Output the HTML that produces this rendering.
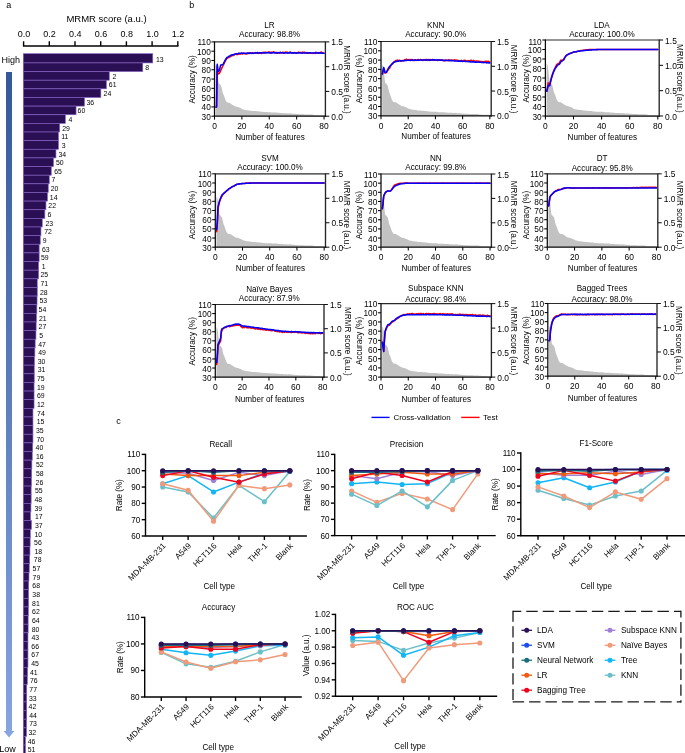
<!DOCTYPE html>
<html><head><meta charset="utf-8"><title>Figure</title>
<style>
html,body{margin:0;padding:0;background:#fff;}
body{width:685px;height:753px;overflow:hidden;font-family:"Liberation Sans", sans-serif;}
svg{display:block;font-family:"Liberation Sans", sans-serif;}
</style></head><body>
<svg width="685" height="753" viewBox="0 0 685 753">
<rect width="685" height="753" fill="#fff"/>
<g opacity="0.999">
<text x="6.30" y="7.60" font-size="9" text-anchor="start" fill="#000">a</text>
<text x="106.50" y="21.70" font-size="9.5" text-anchor="middle" fill="#000">MRMR score (a.u.)</text>
<path d="M23.60 46.0 H177.80" stroke="#000" stroke-width="1.4" fill="none" stroke-linecap="square"/>
<path d="M23.60 46.0 V41.30" stroke="#000" stroke-width="1.4" fill="none"/>
<text x="23.90" y="37.22" font-size="9" text-anchor="middle" fill="#000">0.0</text>
<path d="M49.30 46.0 V41.30" stroke="#000" stroke-width="1.4" fill="none"/>
<text x="49.60" y="37.22" font-size="9" text-anchor="middle" fill="#000">0.2</text>
<path d="M75.00 46.0 V41.30" stroke="#000" stroke-width="1.4" fill="none"/>
<text x="75.30" y="37.22" font-size="9" text-anchor="middle" fill="#000">0.4</text>
<path d="M100.70 46.0 V41.30" stroke="#000" stroke-width="1.4" fill="none"/>
<text x="101.00" y="37.22" font-size="9" text-anchor="middle" fill="#000">0.6</text>
<path d="M126.40 46.0 V41.30" stroke="#000" stroke-width="1.4" fill="none"/>
<text x="126.70" y="37.22" font-size="9" text-anchor="middle" fill="#000">0.8</text>
<path d="M152.10 46.0 V41.30" stroke="#000" stroke-width="1.4" fill="none"/>
<text x="152.40" y="37.22" font-size="9" text-anchor="middle" fill="#000">1.0</text>
<path d="M177.80 46.0 V41.30" stroke="#000" stroke-width="1.4" fill="none"/>
<text x="178.10" y="37.22" font-size="9" text-anchor="middle" fill="#000">1.2</text>
<rect x="23.30" y="53.70" width="129.45" height="9.23" fill="#2a0f54" stroke="#8560c4" stroke-width="0.65"/>
<text x="156.00" y="61.59" font-size="6.9" text-anchor="start" fill="#000">13</text>
<rect x="23.30" y="62.93" width="119.45" height="8.63" fill="#2a0f54" stroke="#8560c4" stroke-width="0.65"/>
<text x="145.30" y="70.22" font-size="6.9" text-anchor="start" fill="#000">8</text>
<rect x="23.30" y="71.57" width="85.95" height="8.63" fill="#2a0f54" stroke="#8560c4" stroke-width="0.65"/>
<text x="112.50" y="78.86" font-size="6.9" text-anchor="start" fill="#000">2</text>
<rect x="23.30" y="80.20" width="83.05" height="8.63" fill="#2a0f54" stroke="#8560c4" stroke-width="0.65"/>
<text x="108.80" y="87.49" font-size="6.9" text-anchor="start" fill="#000">61</text>
<rect x="23.30" y="88.84" width="77.55" height="8.63" fill="#2a0f54" stroke="#8560c4" stroke-width="0.65"/>
<text x="103.60" y="96.13" font-size="6.9" text-anchor="start" fill="#000">24</text>
<rect x="23.30" y="97.47" width="61.15" height="8.63" fill="#2a0f54" stroke="#8560c4" stroke-width="0.65"/>
<text x="86.50" y="104.76" font-size="6.9" text-anchor="start" fill="#000">36</text>
<rect x="23.30" y="106.11" width="52.75" height="8.63" fill="#2a0f54" stroke="#8560c4" stroke-width="0.65"/>
<text x="77.60" y="113.40" font-size="6.9" text-anchor="start" fill="#000">60</text>
<rect x="23.30" y="114.75" width="42.05" height="8.63" fill="#2a0f54" stroke="#8560c4" stroke-width="0.65"/>
<text x="68.60" y="122.03" font-size="6.9" text-anchor="start" fill="#000">4</text>
<rect x="23.30" y="123.38" width="36.35" height="8.63" fill="#2a0f54" stroke="#8560c4" stroke-width="0.65"/>
<text x="62.20" y="130.67" font-size="6.9" text-anchor="start" fill="#000">29</text>
<rect x="23.30" y="132.01" width="35.15" height="8.63" fill="#2a0f54" stroke="#8560c4" stroke-width="0.65"/>
<text x="61.20" y="139.30" font-size="6.9" text-anchor="start" fill="#000">11</text>
<rect x="23.30" y="140.65" width="35.15" height="8.63" fill="#2a0f54" stroke="#8560c4" stroke-width="0.65"/>
<text x="61.70" y="147.94" font-size="6.9" text-anchor="start" fill="#000">3</text>
<rect x="23.30" y="149.28" width="32.65" height="8.63" fill="#2a0f54" stroke="#8560c4" stroke-width="0.65"/>
<text x="58.50" y="156.57" font-size="6.9" text-anchor="start" fill="#000">34</text>
<rect x="23.30" y="157.92" width="30.15" height="8.63" fill="#2a0f54" stroke="#8560c4" stroke-width="0.65"/>
<text x="56.00" y="165.21" font-size="6.9" text-anchor="start" fill="#000">50</text>
<rect x="23.30" y="166.56" width="27.95" height="8.63" fill="#2a0f54" stroke="#8560c4" stroke-width="0.65"/>
<text x="54.20" y="173.84" font-size="6.9" text-anchor="start" fill="#000">65</text>
<rect x="23.30" y="175.19" width="25.95" height="8.63" fill="#2a0f54" stroke="#8560c4" stroke-width="0.65"/>
<text x="51.50" y="182.48" font-size="6.9" text-anchor="start" fill="#000">7</text>
<rect x="23.30" y="183.82" width="24.95" height="8.63" fill="#2a0f54" stroke="#8560c4" stroke-width="0.65"/>
<text x="50.70" y="191.11" font-size="6.9" text-anchor="start" fill="#000">20</text>
<rect x="23.30" y="192.46" width="24.15" height="8.63" fill="#2a0f54" stroke="#8560c4" stroke-width="0.65"/>
<text x="49.80" y="199.75" font-size="6.9" text-anchor="start" fill="#000">14</text>
<rect x="23.30" y="201.09" width="22.65" height="8.63" fill="#2a0f54" stroke="#8560c4" stroke-width="0.65"/>
<text x="48.30" y="208.38" font-size="6.9" text-anchor="start" fill="#000">22</text>
<rect x="23.30" y="209.73" width="21.55" height="8.63" fill="#2a0f54" stroke="#8560c4" stroke-width="0.65"/>
<text x="47.50" y="217.02" font-size="6.9" text-anchor="start" fill="#000">6</text>
<rect x="23.30" y="218.37" width="18.95" height="8.63" fill="#2a0f54" stroke="#8560c4" stroke-width="0.65"/>
<text x="45.50" y="225.65" font-size="6.9" text-anchor="start" fill="#000">23</text>
<rect x="23.30" y="227.00" width="17.65" height="8.63" fill="#2a0f54" stroke="#8560c4" stroke-width="0.65"/>
<text x="44.20" y="234.29" font-size="6.9" text-anchor="start" fill="#000">72</text>
<rect x="23.30" y="235.63" width="16.95" height="8.63" fill="#2a0f54" stroke="#8560c4" stroke-width="0.65"/>
<text x="42.70" y="242.92" font-size="6.9" text-anchor="start" fill="#000">9</text>
<rect x="23.30" y="244.27" width="15.85" height="8.63" fill="#2a0f54" stroke="#8560c4" stroke-width="0.65"/>
<text x="41.90" y="251.56" font-size="6.9" text-anchor="start" fill="#000">63</text>
<rect x="23.30" y="252.90" width="15.85" height="8.63" fill="#2a0f54" stroke="#8560c4" stroke-width="0.65"/>
<text x="41.00" y="260.19" font-size="6.9" text-anchor="start" fill="#000">59</text>
<rect x="23.30" y="261.54" width="15.25" height="8.63" fill="#2a0f54" stroke="#8560c4" stroke-width="0.65"/>
<text x="41.80" y="268.83" font-size="6.9" text-anchor="start" fill="#000">1</text>
<rect x="23.30" y="270.18" width="15.25" height="8.63" fill="#2a0f54" stroke="#8560c4" stroke-width="0.65"/>
<text x="40.50" y="277.46" font-size="6.9" text-anchor="start" fill="#000">25</text>
<rect x="23.30" y="278.81" width="13.95" height="8.63" fill="#2a0f54" stroke="#8560c4" stroke-width="0.65"/>
<text x="40.50" y="286.10" font-size="6.9" text-anchor="start" fill="#000">71</text>
<rect x="23.30" y="287.44" width="13.95" height="8.63" fill="#2a0f54" stroke="#8560c4" stroke-width="0.65"/>
<text x="39.90" y="294.73" font-size="6.9" text-anchor="start" fill="#000">28</text>
<rect x="23.30" y="296.08" width="13.75" height="8.63" fill="#2a0f54" stroke="#8560c4" stroke-width="0.65"/>
<text x="39.50" y="303.37" font-size="6.9" text-anchor="start" fill="#000">53</text>
<rect x="23.30" y="304.71" width="13.55" height="8.63" fill="#2a0f54" stroke="#8560c4" stroke-width="0.65"/>
<text x="38.60" y="312.00" font-size="6.9" text-anchor="start" fill="#000">54</text>
<rect x="23.30" y="313.35" width="13.15" height="8.63" fill="#2a0f54" stroke="#8560c4" stroke-width="0.65"/>
<text x="38.90" y="320.64" font-size="6.9" text-anchor="start" fill="#000">21</text>
<rect x="23.30" y="321.99" width="12.85" height="8.63" fill="#2a0f54" stroke="#8560c4" stroke-width="0.65"/>
<text x="38.60" y="329.27" font-size="6.9" text-anchor="start" fill="#000">27</text>
<rect x="23.30" y="330.62" width="12.65" height="8.63" fill="#2a0f54" stroke="#8560c4" stroke-width="0.65"/>
<text x="39.30" y="337.91" font-size="6.9" text-anchor="start" fill="#000">5</text>
<rect x="23.30" y="339.25" width="11.85" height="8.63" fill="#2a0f54" stroke="#8560c4" stroke-width="0.65"/>
<text x="38.20" y="346.54" font-size="6.9" text-anchor="start" fill="#000">47</text>
<rect x="23.30" y="347.89" width="11.55" height="8.63" fill="#2a0f54" stroke="#8560c4" stroke-width="0.65"/>
<text x="38.20" y="355.18" font-size="6.9" text-anchor="start" fill="#000">49</text>
<rect x="23.30" y="356.52" width="11.15" height="8.63" fill="#2a0f54" stroke="#8560c4" stroke-width="0.65"/>
<text x="37.70" y="363.81" font-size="6.9" text-anchor="start" fill="#000">30</text>
<rect x="23.30" y="365.16" width="10.95" height="8.63" fill="#2a0f54" stroke="#8560c4" stroke-width="0.65"/>
<text x="37.70" y="372.45" font-size="6.9" text-anchor="start" fill="#000">31</text>
<rect x="23.30" y="373.80" width="10.95" height="8.63" fill="#2a0f54" stroke="#8560c4" stroke-width="0.65"/>
<text x="36.90" y="381.08" font-size="6.9" text-anchor="start" fill="#000">75</text>
<rect x="23.30" y="382.43" width="10.75" height="8.63" fill="#2a0f54" stroke="#8560c4" stroke-width="0.65"/>
<text x="36.90" y="389.72" font-size="6.9" text-anchor="start" fill="#000">19</text>
<rect x="23.30" y="391.06" width="10.75" height="8.63" fill="#2a0f54" stroke="#8560c4" stroke-width="0.65"/>
<text x="36.90" y="398.35" font-size="6.9" text-anchor="start" fill="#000">69</text>
<rect x="23.30" y="399.70" width="10.75" height="8.63" fill="#2a0f54" stroke="#8560c4" stroke-width="0.65"/>
<text x="36.90" y="406.99" font-size="6.9" text-anchor="start" fill="#000">12</text>
<rect x="23.30" y="408.33" width="9.65" height="8.63" fill="#2a0f54" stroke="#8560c4" stroke-width="0.65"/>
<text x="37.10" y="415.62" font-size="6.9" text-anchor="start" fill="#000">74</text>
<rect x="23.30" y="416.97" width="9.65" height="8.63" fill="#2a0f54" stroke="#8560c4" stroke-width="0.65"/>
<text x="36.70" y="424.26" font-size="6.9" text-anchor="start" fill="#000">15</text>
<rect x="23.30" y="425.61" width="9.65" height="8.63" fill="#2a0f54" stroke="#8560c4" stroke-width="0.65"/>
<text x="36.00" y="432.89" font-size="6.9" text-anchor="start" fill="#000">35</text>
<rect x="23.30" y="434.24" width="9.65" height="8.63" fill="#2a0f54" stroke="#8560c4" stroke-width="0.65"/>
<text x="36.40" y="441.53" font-size="6.9" text-anchor="start" fill="#000">70</text>
<rect x="23.30" y="442.88" width="9.35" height="8.63" fill="#2a0f54" stroke="#8560c4" stroke-width="0.65"/>
<text x="35.60" y="450.16" font-size="6.9" text-anchor="start" fill="#000">40</text>
<rect x="23.30" y="451.51" width="8.95" height="8.63" fill="#2a0f54" stroke="#8560c4" stroke-width="0.65"/>
<text x="36.00" y="458.80" font-size="6.9" text-anchor="start" fill="#000">16</text>
<rect x="23.30" y="460.14" width="8.55" height="8.63" fill="#2a0f54" stroke="#8560c4" stroke-width="0.65"/>
<text x="36.00" y="467.43" font-size="6.9" text-anchor="start" fill="#000">52</text>
<rect x="23.30" y="468.78" width="8.35" height="8.63" fill="#2a0f54" stroke="#8560c4" stroke-width="0.65"/>
<text x="36.00" y="476.07" font-size="6.9" text-anchor="start" fill="#000">58</text>
<rect x="23.30" y="477.42" width="8.15" height="8.63" fill="#2a0f54" stroke="#8560c4" stroke-width="0.65"/>
<text x="35.60" y="484.70" font-size="6.9" text-anchor="start" fill="#000">26</text>
<rect x="23.30" y="486.05" width="7.85" height="8.63" fill="#2a0f54" stroke="#8560c4" stroke-width="0.65"/>
<text x="34.90" y="493.34" font-size="6.9" text-anchor="start" fill="#000">55</text>
<rect x="23.30" y="494.69" width="7.85" height="8.63" fill="#2a0f54" stroke="#8560c4" stroke-width="0.65"/>
<text x="34.50" y="501.97" font-size="6.9" text-anchor="start" fill="#000">48</text>
<rect x="23.30" y="503.32" width="7.65" height="8.63" fill="#2a0f54" stroke="#8560c4" stroke-width="0.65"/>
<text x="34.50" y="510.61" font-size="6.9" text-anchor="start" fill="#000">39</text>
<rect x="23.30" y="511.95" width="7.25" height="8.63" fill="#2a0f54" stroke="#8560c4" stroke-width="0.65"/>
<text x="34.90" y="519.24" font-size="6.9" text-anchor="start" fill="#000">17</text>
<rect x="23.30" y="520.59" width="8.15" height="8.63" fill="#2a0f54" stroke="#8560c4" stroke-width="0.65"/>
<text x="34.90" y="527.88" font-size="6.9" text-anchor="start" fill="#000">37</text>
<rect x="23.30" y="529.23" width="7.05" height="8.63" fill="#2a0f54" stroke="#8560c4" stroke-width="0.65"/>
<text x="34.50" y="536.51" font-size="6.9" text-anchor="start" fill="#000">10</text>
<rect x="23.30" y="537.86" width="6.85" height="8.63" fill="#2a0f54" stroke="#8560c4" stroke-width="0.65"/>
<text x="34.10" y="545.15" font-size="6.9" text-anchor="start" fill="#000">56</text>
<rect x="23.30" y="546.50" width="6.65" height="8.63" fill="#2a0f54" stroke="#8560c4" stroke-width="0.65"/>
<text x="34.50" y="553.78" font-size="6.9" text-anchor="start" fill="#000">18</text>
<rect x="23.30" y="555.13" width="6.35" height="8.63" fill="#2a0f54" stroke="#8560c4" stroke-width="0.65"/>
<text x="33.80" y="562.42" font-size="6.9" text-anchor="start" fill="#000">78</text>
<rect x="23.30" y="563.76" width="5.95" height="8.63" fill="#2a0f54" stroke="#8560c4" stroke-width="0.65"/>
<text x="32.60" y="571.05" font-size="6.9" text-anchor="start" fill="#000">57</text>
<rect x="23.30" y="572.40" width="5.65" height="8.63" fill="#2a0f54" stroke="#8560c4" stroke-width="0.65"/>
<text x="32.60" y="579.69" font-size="6.9" text-anchor="start" fill="#000">79</text>
<rect x="23.30" y="581.03" width="5.35" height="8.63" fill="#2a0f54" stroke="#8560c4" stroke-width="0.65"/>
<text x="32.30" y="588.32" font-size="6.9" text-anchor="start" fill="#000">68</text>
<rect x="23.30" y="589.67" width="5.25" height="8.63" fill="#2a0f54" stroke="#8560c4" stroke-width="0.65"/>
<text x="32.30" y="596.96" font-size="6.9" text-anchor="start" fill="#000">38</text>
<rect x="23.30" y="598.30" width="5.25" height="8.63" fill="#2a0f54" stroke="#8560c4" stroke-width="0.65"/>
<text x="32.10" y="605.59" font-size="6.9" text-anchor="start" fill="#000">81</text>
<rect x="23.30" y="606.94" width="5.05" height="8.63" fill="#2a0f54" stroke="#8560c4" stroke-width="0.65"/>
<text x="32.10" y="614.23" font-size="6.9" text-anchor="start" fill="#000">62</text>
<rect x="23.30" y="615.57" width="4.85" height="8.63" fill="#2a0f54" stroke="#8560c4" stroke-width="0.65"/>
<text x="31.90" y="622.86" font-size="6.9" text-anchor="start" fill="#000">64</text>
<rect x="23.30" y="624.21" width="4.85" height="8.63" fill="#2a0f54" stroke="#8560c4" stroke-width="0.65"/>
<text x="31.70" y="631.50" font-size="6.9" text-anchor="start" fill="#000">80</text>
<rect x="23.30" y="632.84" width="4.65" height="8.63" fill="#2a0f54" stroke="#8560c4" stroke-width="0.65"/>
<text x="31.50" y="640.13" font-size="6.9" text-anchor="start" fill="#000">43</text>
<rect x="23.30" y="641.48" width="4.65" height="8.63" fill="#2a0f54" stroke="#8560c4" stroke-width="0.65"/>
<text x="31.30" y="648.77" font-size="6.9" text-anchor="start" fill="#000">66</text>
<rect x="23.30" y="650.11" width="4.65" height="8.63" fill="#2a0f54" stroke="#8560c4" stroke-width="0.65"/>
<text x="31.30" y="657.40" font-size="6.9" text-anchor="start" fill="#000">67</text>
<rect x="23.30" y="658.75" width="4.65" height="8.63" fill="#2a0f54" stroke="#8560c4" stroke-width="0.65"/>
<text x="31.20" y="666.04" font-size="6.9" text-anchor="start" fill="#000">45</text>
<rect x="23.30" y="667.38" width="4.20" height="8.63" fill="#2a0f54" stroke="#8560c4" stroke-width="0.65"/>
<text x="29.90" y="674.67" font-size="6.9" text-anchor="start" fill="#000">41</text>
<rect x="23.30" y="676.02" width="4.00" height="8.63" fill="#2a0f54" stroke="#8560c4" stroke-width="0.65"/>
<text x="30.00" y="683.31" font-size="6.9" text-anchor="start" fill="#000">76</text>
<rect x="23.30" y="684.65" width="3.40" height="8.63" fill="#2a0f54" stroke="#8560c4" stroke-width="0.65"/>
<text x="29.30" y="691.94" font-size="6.9" text-anchor="start" fill="#000">77</text>
<rect x="23.30" y="693.29" width="3.40" height="8.63" fill="#2a0f54" stroke="#8560c4" stroke-width="0.65"/>
<text x="28.90" y="700.58" font-size="6.9" text-anchor="start" fill="#000">33</text>
<rect x="23.30" y="701.92" width="3.40" height="8.63" fill="#2a0f54" stroke="#8560c4" stroke-width="0.65"/>
<text x="28.60" y="709.21" font-size="6.9" text-anchor="start" fill="#000">42</text>
<rect x="23.30" y="710.56" width="3.40" height="8.63" fill="#2a0f54" stroke="#8560c4" stroke-width="0.65"/>
<text x="29.20" y="717.85" font-size="6.9" text-anchor="start" fill="#000">44</text>
<rect x="23.30" y="719.19" width="3.20" height="8.63" fill="#2a0f54" stroke="#8560c4" stroke-width="0.65"/>
<text x="29.20" y="726.48" font-size="6.9" text-anchor="start" fill="#000">73</text>
<rect x="23.30" y="727.83" width="3.20" height="8.63" fill="#2a0f54" stroke="#8560c4" stroke-width="0.65"/>
<text x="28.50" y="735.12" font-size="6.9" text-anchor="start" fill="#000">32</text>
<rect x="23.30" y="736.46" width="2.20" height="8.63" fill="#2a0f54" stroke="#8560c4" stroke-width="0.65"/>
<text x="27.70" y="743.75" font-size="6.9" text-anchor="start" fill="#000">46</text>
<rect x="23.30" y="745.10" width="2.20" height="8.63" fill="#2a0f54" stroke="#8560c4" stroke-width="0.65"/>
<text x="27.70" y="752.39" font-size="6.9" text-anchor="start" fill="#000">51</text>
<text x="1.60" y="62.80" font-size="9" text-anchor="start" fill="#000">High</text>
<text x="-0.80" y="751.60" font-size="9" text-anchor="start" fill="#000">Low</text>
<defs><linearGradient id="ag" x1="0" y1="0" x2="0" y2="1"><stop offset="0" stop-color="#34589a"/><stop offset="1" stop-color="#86a6e2"/></linearGradient></defs>
<path d="M6 72 H12 V731 H14.4 L9 737.5 L3.6 731 H6 Z" fill="url(#ag)"/>
<text x="189.20" y="7.60" font-size="9" text-anchor="start" fill="#000">b</text>
<polygon points="215.66,116.20 215.66,65.18 216.55,66.17 217.24,70.25 218.61,83.16 219.98,84.28 221.35,86.40 222.71,92.72 224.08,95.96 225.45,100.09 226.82,102.28 228.19,102.75 229.56,102.75 230.93,103.71 232.30,104.67 233.67,105.52 235.04,106.29 236.41,106.68 237.78,106.99 239.14,107.57 240.51,107.99 241.88,108.99 243.25,109.49 244.62,109.76 245.99,110.19 247.36,110.19 248.73,110.42 250.10,110.42 251.47,110.92 252.84,110.92 254.20,111.00 255.57,111.07 256.94,111.23 258.31,111.34 259.68,111.42 261.05,111.73 262.42,111.84 263.79,112.00 265.16,112.08 266.53,112.08 267.90,112.15 269.27,112.15 270.63,112.15 272.00,112.58 273.37,112.58 274.74,112.58 276.11,112.58 277.48,112.69 278.85,112.85 280.22,113.00 281.59,113.08 282.96,113.15 284.33,113.27 285.70,113.27 287.06,113.35 288.43,113.50 289.80,113.15 291.17,113.58 292.54,113.66 293.91,113.73 295.28,113.85 296.65,114.00 298.02,114.12 299.39,114.23 300.76,114.27 302.12,114.27 303.49,114.35 304.86,114.43 306.23,114.43 307.60,114.50 308.97,114.50 310.34,114.50 311.71,114.50 313.08,114.85 314.45,114.93 315.82,115.16 317.19,115.16 318.55,115.16 319.92,115.16 321.29,115.24 322.66,115.24 324.03,115.62 325.40,115.62 325.40,116.20" fill="#c2c2c2"/>
<polyline points="215.87,106.91 216.55,106.91 217.24,66.05 217.92,73.01 218.61,73.99 219.29,73.48 219.98,72.08 220.66,70.69 221.35,69.14 222.03,67.60 222.71,66.05 223.40,64.88 224.08,63.72 224.77,61.67 225.45,61.03 226.14,59.27 226.82,58.33 227.51,58.26 228.19,57.21 228.88,57.48 229.56,56.61 230.25,56.74 230.93,56.36 231.61,55.70 232.30,54.94 232.98,55.62 233.67,55.26 234.35,54.58 235.04,54.01 235.72,54.34 236.41,54.42 237.09,53.51 237.78,54.56 238.46,53.43 239.14,54.09 239.83,54.20 240.51,54.16 241.20,53.84 241.88,53.10 242.57,53.90 243.25,53.36 243.94,53.26 244.62,53.58 245.31,53.33 245.99,53.94 246.67,53.92 247.36,53.71 248.04,53.07 248.73,53.37 249.41,53.50 250.10,53.12 250.78,53.27 251.47,53.44 252.15,52.78 252.84,52.88 253.52,53.45 254.20,52.99 254.89,53.04 255.57,52.56 256.26,52.72 256.94,53.27 257.63,52.34 258.31,53.43 259.00,53.01 259.68,52.54 260.37,53.30 261.05,52.84 261.74,53.39 262.42,52.55 263.10,52.39 263.79,52.62 264.47,52.19 265.16,52.90 265.84,52.37 266.53,52.48 267.21,52.47 267.90,52.60 268.58,52.07 269.27,51.91 269.95,52.52 270.63,52.28 271.32,53.07 272.00,52.24 272.69,52.31 273.37,51.87 274.06,52.09 274.74,52.80 275.43,52.67 276.11,52.30 276.80,53.15 277.48,52.58 278.16,52.96 278.85,53.03 279.53,53.11 280.22,52.19 280.90,53.03 281.59,52.88 282.27,52.70 282.96,52.07 283.64,53.11 284.33,52.63 285.01,52.50 285.70,52.07 286.38,52.16 287.06,52.11 287.75,52.87 288.43,52.70 289.12,52.77 289.80,52.09 290.49,52.00 291.17,53.05 291.86,53.02 292.54,52.95 293.23,52.96 293.91,52.63 294.59,52.50 295.28,52.93 295.96,53.27 296.65,52.73 297.33,52.80 298.02,52.55 298.70,52.05 299.39,52.39 300.07,52.62 300.76,52.50 301.44,52.42 302.12,53.23 302.81,52.14 303.49,52.30 304.18,52.18 304.86,52.28 305.55,52.81 306.23,52.81 306.92,53.19 307.60,52.51 308.29,53.26 308.97,53.25 309.65,53.07 310.34,53.14 311.02,52.91 311.71,53.29 312.39,53.36 313.08,53.16 313.76,53.23 314.45,52.89 315.13,53.34 315.82,52.24 316.50,52.58 317.19,53.19 317.87,53.06 318.55,52.94 319.24,52.92 319.92,53.24 320.61,52.30 321.29,52.11 321.98,52.80 322.66,52.78 323.35,53.30 324.03,53.28" fill="none" stroke="#ff0000" stroke-width="1.55" stroke-linejoin="round" stroke-linecap="round"/>
<polyline points="215.87,106.91 216.55,106.91 217.24,64.19 217.92,70.38 218.61,71.21 219.29,70.69 219.98,67.91 220.66,65.12 221.35,64.96 222.03,64.81 222.71,64.65 223.40,63.57 224.08,62.44 224.77,60.79 225.45,59.70 226.14,58.84 226.82,57.48 227.51,57.21 228.19,56.92 228.88,56.39 229.56,56.28 230.25,55.70 230.93,55.14 231.61,54.97 232.30,54.81 232.98,54.78 233.67,54.50 234.35,54.47 235.04,54.06 235.72,54.05 236.41,53.81 237.09,53.90 237.78,53.82 238.46,53.47 239.14,53.32 239.83,53.30 240.51,53.24 241.20,53.16 241.88,53.12 242.57,53.35 243.25,53.20 243.94,53.27 244.62,53.41 245.31,53.40 245.99,53.28 246.67,53.28 247.36,53.07 248.04,52.94 248.73,53.16 249.41,52.93 250.10,52.89 250.78,52.90 251.47,53.16 252.15,53.22 252.84,53.21 253.52,53.21 254.20,53.20 254.89,53.00 255.57,52.86 256.26,52.87 256.94,53.03 257.63,52.93 258.31,52.85 259.00,53.17 259.68,52.89 260.37,52.76 261.05,52.80 261.74,52.80 262.42,52.92 263.10,53.04 263.79,52.74 264.47,52.94 265.16,52.71 265.84,52.62 266.53,52.87 267.21,52.85 267.90,52.59 268.58,52.68 269.27,52.92 269.95,52.94 270.63,52.94 271.32,52.59 272.00,52.64 272.69,52.95 273.37,52.64 274.06,52.57 274.74,52.72 275.43,52.87 276.11,52.78 276.80,52.98 277.48,53.03 278.16,52.59 278.85,52.75 279.53,52.81 280.22,52.62 280.90,52.86 281.59,52.66 282.27,52.68 282.96,52.97 283.64,52.95 284.33,52.94 285.01,52.97 285.70,52.81 286.38,52.97 287.06,52.89 287.75,53.03 288.43,52.67 289.12,52.94 289.80,52.89 290.49,52.84 291.17,52.69 291.86,52.92 292.54,52.69 293.23,52.89 293.91,52.88 294.59,52.88 295.28,53.12 295.96,52.93 296.65,53.05 297.33,53.14 298.02,52.77 298.70,53.07 299.39,52.93 300.07,52.82 300.76,52.90 301.44,53.01 302.12,52.93 302.81,52.91 303.49,52.81 304.18,53.13 304.86,52.92 305.55,53.07 306.23,53.06 306.92,52.83 307.60,52.96 308.29,52.94 308.97,52.85 309.65,52.78 310.34,53.00 311.02,52.93 311.71,52.98 312.39,52.98 313.08,52.90 313.76,53.01 314.45,52.98 315.13,53.01 315.82,52.80 316.50,52.91 317.19,52.84 317.87,52.81 318.55,53.13 319.24,52.99 319.92,52.82 320.61,52.87 321.29,53.20 321.98,53.21 322.66,53.06 323.35,53.24 324.03,53.17" fill="none" stroke="#0000ff" stroke-width="1.55" stroke-linejoin="round" stroke-linecap="round"/>
<path d="M214.50 41.90 H325.40" stroke="#2a2a2a" stroke-width="1.2" fill="none"/>
<path d="M325.40 41.50 V116.80" stroke="#262626" stroke-width="1.35" fill="none"/>
<path d="M214.50 41.50 V116.20 H326.00" stroke="#0a0a0a" stroke-width="1.25" fill="none" stroke-linejoin="miter"/>
<path d="M211.40 116.20 H214.50" stroke="#000" stroke-width="1.05" fill="none"/>
<text x="210.80" y="119.77" font-size="8.3" text-anchor="end" fill="#000">30</text>
<path d="M211.40 106.91 H214.50" stroke="#000" stroke-width="1.05" fill="none"/>
<text x="210.80" y="110.48" font-size="8.3" text-anchor="end" fill="#000">40</text>
<path d="M211.40 97.62 H214.50" stroke="#000" stroke-width="1.05" fill="none"/>
<text x="210.80" y="101.20" font-size="8.3" text-anchor="end" fill="#000">50</text>
<path d="M211.40 88.34 H214.50" stroke="#000" stroke-width="1.05" fill="none"/>
<text x="210.80" y="91.91" font-size="8.3" text-anchor="end" fill="#000">60</text>
<path d="M211.40 79.05 H214.50" stroke="#000" stroke-width="1.05" fill="none"/>
<text x="210.80" y="82.62" font-size="8.3" text-anchor="end" fill="#000">70</text>
<path d="M211.40 69.76 H214.50" stroke="#000" stroke-width="1.05" fill="none"/>
<text x="210.80" y="73.33" font-size="8.3" text-anchor="end" fill="#000">80</text>
<path d="M211.40 60.47 H214.50" stroke="#000" stroke-width="1.05" fill="none"/>
<text x="210.80" y="64.05" font-size="8.3" text-anchor="end" fill="#000">90</text>
<path d="M211.40 51.19 H214.50" stroke="#000" stroke-width="1.05" fill="none"/>
<text x="210.80" y="54.76" font-size="8.3" text-anchor="end" fill="#000">100</text>
<path d="M211.40 41.90 H214.50" stroke="#000" stroke-width="1.05" fill="none"/>
<text x="210.80" y="45.47" font-size="8.3" text-anchor="end" fill="#000">110</text>
<path d="M325.40 116.20 H329.30" stroke="#111" stroke-width="1.05" fill="none"/>
<text x="331.30" y="119.73" font-size="8.450000000000001" text-anchor="start" fill="#000">0.0</text>
<path d="M325.40 91.43 H329.30" stroke="#111" stroke-width="1.05" fill="none"/>
<text x="331.30" y="94.96" font-size="8.450000000000001" text-anchor="start" fill="#000">0.5</text>
<path d="M325.40 66.67 H329.30" stroke="#111" stroke-width="1.05" fill="none"/>
<text x="331.30" y="70.19" font-size="8.450000000000001" text-anchor="start" fill="#000">1.0</text>
<path d="M325.40 41.90 H329.30" stroke="#111" stroke-width="1.05" fill="none"/>
<text x="331.30" y="45.43" font-size="8.450000000000001" text-anchor="start" fill="#000">1.5</text>
<path d="M214.50 116.20 V119.60" stroke="#000" stroke-width="1.05" fill="none"/>
<text x="214.50" y="128.93" font-size="8.450000000000001" text-anchor="middle" fill="#000">0</text>
<path d="M241.88 116.20 V119.60" stroke="#000" stroke-width="1.05" fill="none"/>
<text x="241.88" y="128.93" font-size="8.450000000000001" text-anchor="middle" fill="#000">20</text>
<path d="M269.27 116.20 V119.60" stroke="#000" stroke-width="1.05" fill="none"/>
<text x="269.27" y="128.93" font-size="8.450000000000001" text-anchor="middle" fill="#000">40</text>
<path d="M296.65 116.20 V119.60" stroke="#000" stroke-width="1.05" fill="none"/>
<text x="296.65" y="128.93" font-size="8.450000000000001" text-anchor="middle" fill="#000">60</text>
<path d="M324.03 116.20 V119.60" stroke="#000" stroke-width="1.05" fill="none"/>
<text x="324.03" y="128.93" font-size="8.450000000000001" text-anchor="middle" fill="#000">80</text>
<text x="269.55" y="28.22" font-size="8.15" text-anchor="middle" fill="#000">LR</text>
<text x="269.55" y="37.42" font-size="8.15" text-anchor="middle" fill="#000">Accuracy: 98.8%</text>
<text x="269.95" y="139.82" font-size="8.15" text-anchor="middle" fill="#000">Number of features</text>
<text x="195.12" y="79.45" font-size="8.15" text-anchor="middle" fill="#000" transform="rotate(-90 195.12 79.45)">Accuracy (%)</text>
<text x="344.18" y="79.45" font-size="8.15" text-anchor="middle" fill="#000" transform="rotate(90 344.18 79.45)">MRMR score (a.u.)</text>
<polygon points="382.16,115.80 382.16,64.78 383.04,65.77 383.72,69.85 385.08,82.76 386.44,83.88 387.80,86.00 389.16,92.32 390.52,95.56 391.88,99.69 393.24,101.88 394.60,102.35 395.97,102.35 397.33,103.31 398.69,104.27 400.05,105.12 401.41,105.89 402.77,106.28 404.13,106.59 405.49,107.17 406.85,107.59 408.21,108.59 409.57,109.09 410.93,109.36 412.29,109.79 413.65,109.79 415.01,110.02 416.37,110.02 417.73,110.52 419.09,110.52 420.45,110.60 421.81,110.67 423.18,110.83 424.54,110.94 425.90,111.02 427.26,111.33 428.62,111.44 429.98,111.60 431.34,111.68 432.70,111.68 434.06,111.75 435.42,111.75 436.78,111.75 438.14,112.18 439.50,112.18 440.86,112.18 442.22,112.18 443.58,112.29 444.94,112.45 446.30,112.60 447.66,112.68 449.02,112.75 450.39,112.87 451.75,112.87 453.11,112.95 454.47,113.10 455.83,112.75 457.19,113.18 458.55,113.26 459.91,113.33 461.27,113.45 462.63,113.60 463.99,113.72 465.35,113.83 466.71,113.87 468.07,113.87 469.43,113.95 470.79,114.03 472.15,114.03 473.51,114.10 474.87,114.10 476.23,114.10 477.60,114.10 478.96,114.45 480.32,114.53 481.68,114.76 483.04,114.76 484.40,114.76 485.76,114.76 487.12,114.84 488.48,114.84 489.84,115.22 491.20,115.22 491.20,115.80" fill="#c2c2c2"/>
<polyline points="382.36,74.01 383.04,71.22 383.72,68.43 384.40,70.76 385.08,73.08 385.76,72.85 386.44,72.61 387.12,71.45 387.80,70.29 388.48,69.36 389.16,68.43 389.84,67.86 390.52,66.16 391.20,64.98 391.88,63.81 392.56,63.94 393.24,62.62 393.92,61.99 394.60,61.87 395.29,60.81 395.97,60.48 396.65,61.08 397.33,60.04 398.01,60.73 398.69,60.71 399.37,60.23 400.05,60.48 400.73,61.30 401.41,61.08 402.09,60.75 402.77,60.72 403.45,60.65 404.13,60.28 404.81,59.60 405.49,60.15 406.17,59.32 406.85,59.21 407.53,59.84 408.21,59.64 408.89,59.47 409.57,59.75 410.25,60.41 410.93,59.53 411.61,59.74 412.29,59.53 412.97,60.48 413.65,60.29 414.33,60.53 415.01,59.69 415.69,60.25 416.37,60.39 417.05,60.06 417.73,59.50 418.41,59.59 419.09,60.20 419.77,60.31 420.45,59.45 421.13,59.82 421.81,59.67 422.50,60.35 423.18,60.38 423.86,59.68 424.54,59.97 425.22,60.37 425.90,59.40 426.58,59.74 427.26,59.55 427.94,60.35 428.62,59.49 429.30,60.37 429.98,59.48 430.66,59.94 431.34,60.07 432.02,59.83 432.70,59.41 433.38,60.15 434.06,60.30 434.74,59.86 435.42,60.18 436.10,60.34 436.78,60.30 437.46,60.45 438.14,60.30 438.82,60.19 439.50,60.22 440.18,59.73 440.86,60.27 441.54,60.06 442.22,60.43 442.90,60.26 443.58,60.65 444.26,60.41 444.94,60.69 445.62,59.91 446.30,60.13 446.98,60.55 447.66,60.25 448.34,59.76 449.02,60.70 449.70,59.92 450.39,60.36 451.07,60.31 451.75,59.94 452.43,60.45 453.11,60.34 453.79,60.15 454.47,59.83 455.15,60.56 455.83,60.03 456.51,60.18 457.19,60.28 457.87,60.55 458.55,60.63 459.23,60.97 459.91,60.90 460.59,60.98 461.27,60.24 461.95,60.80 462.63,60.91 463.31,61.03 463.99,60.21 464.67,60.20 465.35,60.44 466.03,60.90 466.71,60.97 467.39,60.93 468.07,60.77 468.75,61.13 469.43,60.83 470.11,61.06 470.79,60.30 471.47,60.31 472.15,60.81 472.83,61.17 473.51,60.39 474.19,61.15 474.87,61.12 475.55,61.54 476.23,61.14 476.91,61.07 477.60,61.07 478.28,61.45 478.96,61.15 479.64,61.74 480.32,61.49 481.00,61.72 481.68,61.41 482.36,61.85 483.04,61.91 483.72,61.63 484.40,61.75 485.08,61.39 485.76,61.49 486.44,61.28 487.12,61.42 487.80,61.39 488.48,61.25 489.16,61.83 489.84,61.94" fill="none" stroke="#ff0000" stroke-width="1.55" stroke-linejoin="round" stroke-linecap="round"/>
<polyline points="382.36,74.01 383.04,70.76 383.72,67.50 384.40,70.06 385.08,72.61 385.76,72.38 386.44,72.15 387.12,70.76 387.80,69.36 388.48,68.20 389.16,67.04 389.84,66.16 390.52,65.78 391.20,64.87 391.88,64.20 392.56,63.73 393.24,62.74 393.92,62.25 394.60,61.89 395.29,61.66 395.97,61.45 396.65,61.51 397.33,61.18 398.01,61.13 398.69,60.94 399.37,60.89 400.05,60.82 400.73,60.85 401.41,60.67 402.09,60.69 402.77,60.63 403.45,60.75 404.13,60.77 404.81,60.68 405.49,60.54 406.17,60.57 406.85,60.25 407.53,60.29 408.21,60.21 408.89,60.20 409.57,60.18 410.25,60.24 410.93,60.41 411.61,60.10 412.29,60.11 412.97,60.19 413.65,60.17 414.33,60.12 415.01,60.33 415.69,60.07 416.37,60.24 417.05,60.30 417.73,60.22 418.41,60.04 419.09,60.22 419.77,60.01 420.45,59.92 421.13,60.09 421.81,60.12 422.50,60.07 423.18,59.99 423.86,59.95 424.54,59.99 425.22,59.98 425.90,60.18 426.58,60.14 427.26,60.09 427.94,59.90 428.62,60.05 429.30,59.95 429.98,60.14 430.66,60.12 431.34,60.03 432.02,59.87 432.70,59.86 433.38,59.85 434.06,59.99 434.74,59.89 435.42,59.90 436.10,59.93 436.78,60.10 437.46,59.84 438.14,60.13 438.82,59.87 439.50,59.92 440.18,60.30 440.86,60.16 441.54,60.06 442.22,60.04 442.90,60.27 443.58,60.37 444.26,60.42 444.94,60.18 445.62,60.48 446.30,60.38 446.98,60.57 447.66,60.47 448.34,60.34 449.02,60.68 449.70,60.46 450.39,60.61 451.07,60.51 451.75,60.61 452.43,60.82 453.11,60.61 453.79,60.80 454.47,61.01 455.15,61.06 455.83,60.91 456.51,60.97 457.19,61.06 457.87,61.16 458.55,61.12 459.23,61.16 459.91,61.01 460.59,61.36 461.27,61.11 461.95,61.12 462.63,61.42 463.31,61.17 463.99,61.29 464.67,61.26 465.35,61.53 466.03,61.54 466.71,61.57 467.39,61.39 468.07,61.58 468.75,61.71 469.43,61.73 470.11,61.83 470.79,61.95 471.47,61.97 472.15,61.74 472.83,61.99 473.51,61.79 474.19,62.09 474.87,62.12 475.55,62.07 476.23,62.23 476.91,62.20 477.60,62.02 478.28,62.09 478.96,62.15 479.64,62.26 480.32,62.19 481.00,62.21 481.68,62.40 482.36,62.37 483.04,62.66 483.72,62.44 484.40,62.58 485.08,62.51 485.76,62.58 486.44,62.75 487.12,62.88 487.80,62.59 488.48,62.93 489.16,62.83 489.84,62.92" fill="none" stroke="#0000ff" stroke-width="1.55" stroke-linejoin="round" stroke-linecap="round"/>
<path d="M381.00 41.50 H491.20" stroke="#2a2a2a" stroke-width="1.2" fill="none"/>
<path d="M491.20 41.10 V116.40" stroke="#262626" stroke-width="1.35" fill="none"/>
<path d="M381.00 41.10 V115.80 H491.80" stroke="#0a0a0a" stroke-width="1.25" fill="none" stroke-linejoin="miter"/>
<path d="M377.90 115.80 H381.00" stroke="#000" stroke-width="1.05" fill="none"/>
<text x="377.30" y="119.37" font-size="8.3" text-anchor="end" fill="#000">30</text>
<path d="M377.90 106.51 H381.00" stroke="#000" stroke-width="1.05" fill="none"/>
<text x="377.30" y="110.08" font-size="8.3" text-anchor="end" fill="#000">40</text>
<path d="M377.90 97.22 H381.00" stroke="#000" stroke-width="1.05" fill="none"/>
<text x="377.30" y="100.80" font-size="8.3" text-anchor="end" fill="#000">50</text>
<path d="M377.90 87.94 H381.00" stroke="#000" stroke-width="1.05" fill="none"/>
<text x="377.30" y="91.51" font-size="8.3" text-anchor="end" fill="#000">60</text>
<path d="M377.90 78.65 H381.00" stroke="#000" stroke-width="1.05" fill="none"/>
<text x="377.30" y="82.22" font-size="8.3" text-anchor="end" fill="#000">70</text>
<path d="M377.90 69.36 H381.00" stroke="#000" stroke-width="1.05" fill="none"/>
<text x="377.30" y="72.93" font-size="8.3" text-anchor="end" fill="#000">80</text>
<path d="M377.90 60.08 H381.00" stroke="#000" stroke-width="1.05" fill="none"/>
<text x="377.30" y="63.65" font-size="8.3" text-anchor="end" fill="#000">90</text>
<path d="M377.90 50.79 H381.00" stroke="#000" stroke-width="1.05" fill="none"/>
<text x="377.30" y="54.36" font-size="8.3" text-anchor="end" fill="#000">100</text>
<path d="M377.90 41.50 H381.00" stroke="#000" stroke-width="1.05" fill="none"/>
<text x="377.30" y="45.07" font-size="8.3" text-anchor="end" fill="#000">110</text>
<path d="M491.20 115.80 H495.10" stroke="#111" stroke-width="1.05" fill="none"/>
<text x="497.10" y="119.33" font-size="8.450000000000001" text-anchor="start" fill="#000">0.0</text>
<path d="M491.20 91.03 H495.10" stroke="#111" stroke-width="1.05" fill="none"/>
<text x="497.10" y="94.56" font-size="8.450000000000001" text-anchor="start" fill="#000">0.5</text>
<path d="M491.20 66.27 H495.10" stroke="#111" stroke-width="1.05" fill="none"/>
<text x="497.10" y="69.79" font-size="8.450000000000001" text-anchor="start" fill="#000">1.0</text>
<path d="M491.20 41.50 H495.10" stroke="#111" stroke-width="1.05" fill="none"/>
<text x="497.10" y="45.03" font-size="8.450000000000001" text-anchor="start" fill="#000">1.5</text>
<path d="M381.00 115.80 V119.20" stroke="#000" stroke-width="1.05" fill="none"/>
<text x="381.00" y="128.53" font-size="8.450000000000001" text-anchor="middle" fill="#000">0</text>
<path d="M408.21 115.80 V119.20" stroke="#000" stroke-width="1.05" fill="none"/>
<text x="408.21" y="128.53" font-size="8.450000000000001" text-anchor="middle" fill="#000">20</text>
<path d="M435.42 115.80 V119.20" stroke="#000" stroke-width="1.05" fill="none"/>
<text x="435.42" y="128.53" font-size="8.450000000000001" text-anchor="middle" fill="#000">40</text>
<path d="M462.63 115.80 V119.20" stroke="#000" stroke-width="1.05" fill="none"/>
<text x="462.63" y="128.53" font-size="8.450000000000001" text-anchor="middle" fill="#000">60</text>
<path d="M489.84 115.80 V119.20" stroke="#000" stroke-width="1.05" fill="none"/>
<text x="489.84" y="128.53" font-size="8.450000000000001" text-anchor="middle" fill="#000">80</text>
<text x="435.70" y="28.22" font-size="8.15" text-anchor="middle" fill="#000">KNN</text>
<text x="435.70" y="37.42" font-size="8.15" text-anchor="middle" fill="#000">Accuracy: 90.0%</text>
<text x="436.10" y="139.42" font-size="8.15" text-anchor="middle" fill="#000">Number of features</text>
<text x="362.12" y="79.05" font-size="8.15" text-anchor="middle" fill="#000" transform="rotate(-90 362.12 79.05)">Accuracy (%)</text>
<text x="511.08" y="79.05" font-size="8.15" text-anchor="middle" fill="#000" transform="rotate(90 511.08 79.05)">MRMR score (a.u.)</text>
<polygon points="546.59,116.00 546.59,63.81 547.51,64.83 548.21,69.00 549.61,82.21 551.02,83.35 552.42,85.52 553.83,91.99 555.23,95.30 556.64,99.52 558.04,101.77 559.45,102.24 560.85,102.24 562.26,103.22 563.66,104.21 565.07,105.08 566.47,105.87 567.88,106.26 569.28,106.58 570.69,107.17 572.09,107.60 573.50,108.63 574.90,109.14 576.31,109.42 577.71,109.85 579.12,109.85 580.52,110.09 581.93,110.09 583.33,110.60 584.74,110.60 586.14,110.68 587.55,110.76 588.95,110.91 590.36,111.03 591.76,111.11 593.17,111.43 594.57,111.54 595.98,111.70 597.38,111.78 598.79,111.78 600.19,111.86 601.60,111.86 603.00,111.86 604.41,112.29 605.81,112.29 607.22,112.29 608.62,112.29 610.03,112.41 611.43,112.57 612.84,112.73 614.24,112.81 615.65,112.89 617.05,113.00 618.46,113.00 619.86,113.08 621.27,113.24 622.67,112.89 624.08,113.32 625.48,113.40 626.89,113.48 628.29,113.59 629.70,113.75 631.10,113.87 632.51,113.99 633.91,114.03 635.32,114.03 636.72,114.11 638.13,114.19 639.53,114.19 640.94,114.27 642.34,114.27 643.75,114.27 645.15,114.27 646.56,114.62 647.96,114.70 649.37,114.94 650.77,114.94 652.18,114.94 653.58,114.94 654.99,115.01 656.39,115.01 657.80,115.41 659.20,115.41 659.20,116.00" fill="#c2c2c2"/>
<polyline points="546.80,91.30 547.51,87.03 548.21,82.75 548.91,84.17 549.61,85.60 550.32,82.28 551.02,78.95 551.72,76.57 552.42,74.20 553.13,72.30 553.83,70.40 554.53,68.99 555.23,67.53 555.94,66.08 556.64,64.72 557.34,64.21 558.04,63.77 558.75,63.27 559.45,62.81 560.15,61.41 560.85,59.98 561.56,60.22 562.26,60.39 562.96,59.95 563.66,59.50 564.37,58.25 565.07,57.05 565.77,56.15 566.47,55.23 567.18,54.87 567.88,54.53 568.58,54.15 569.28,53.81 569.99,53.56 570.69,53.32 571.39,53.06 572.09,52.79 572.80,52.56 573.50,52.36 574.20,52.19 574.90,52.01 575.61,51.85 576.31,51.68 577.01,51.54 577.71,51.35 578.42,51.11 579.12,51.02 579.82,50.81 580.52,50.63 581.23,50.51 581.93,50.48 582.63,50.38 583.33,50.28 584.04,50.17 584.74,50.08 585.44,49.93 586.14,49.85 586.85,49.75 587.55,49.74 588.25,49.72 588.95,49.63 589.66,49.60 590.36,49.62 591.06,49.59 591.76,49.62 592.47,49.57 593.17,49.50 593.87,49.49 594.57,49.47 595.28,49.46 595.98,49.52 596.68,49.54 597.38,49.53 598.09,49.50 598.79,49.48 599.49,49.46 600.19,49.48 600.90,49.49 601.60,49.47 602.30,49.50 603.00,49.50 603.70,49.54 604.41,49.47 605.11,49.53 605.81,49.46 606.51,49.49 607.22,49.52 607.92,49.54 608.62,49.52 609.32,49.49 610.03,49.48 610.73,49.54 611.43,49.54 612.13,49.50 612.84,49.49 613.54,49.51 614.24,49.53 614.94,49.49 615.65,49.55 616.35,49.52 617.05,49.50 617.75,49.46 618.46,49.49 619.16,49.46 619.86,49.50 620.56,49.53 621.27,49.52 621.97,49.46 622.67,49.48 623.37,49.52 624.08,49.55 624.78,49.50 625.48,49.48 626.18,49.51 626.89,49.52 627.59,49.48 628.29,49.46 628.99,49.53 629.70,49.54 630.40,49.52 631.10,49.51 631.80,49.48 632.51,49.53 633.21,49.47 633.91,49.48 634.61,49.50 635.32,49.53 636.02,49.46 636.72,49.52 637.42,49.47 638.13,49.53 638.83,49.53 639.53,49.48 640.23,49.52 640.94,49.46 641.64,49.50 642.34,49.53 643.04,49.53 643.75,49.51 644.45,49.48 645.15,49.46 645.85,49.53 646.56,49.51 647.26,49.53 647.96,49.45 648.66,49.53 649.37,49.54 650.07,49.54 650.77,49.51 651.47,49.46 652.18,49.46 652.88,49.48 653.58,49.45 654.28,49.46 654.99,49.52 655.69,49.53 656.39,49.46 657.09,49.48 657.80,49.54" fill="none" stroke="#ff0000" stroke-width="1.55" stroke-linejoin="round" stroke-linecap="round"/>
<polyline points="546.80,91.30 547.51,88.45 548.21,85.60 548.91,85.60 549.61,85.60 550.32,82.75 551.02,79.90 551.72,77.53 552.42,75.15 553.13,73.25 553.83,71.35 554.53,69.93 555.23,68.50 555.94,67.55 556.64,66.60 557.34,65.65 558.04,64.70 558.75,64.46 559.45,64.22 560.15,63.04 560.85,61.85 561.56,61.38 562.26,60.90 562.96,60.43 563.66,59.95 564.37,58.52 565.07,57.10 565.77,56.15 566.47,55.20 567.18,54.84 567.88,54.49 568.58,54.13 569.28,53.77 569.99,53.49 570.69,53.21 571.39,52.92 572.09,52.63 572.80,52.35 573.50,52.07 574.20,51.95 574.90,51.84 575.61,51.72 576.31,51.61 577.01,51.49 577.71,51.38 578.42,51.27 579.12,51.15 579.82,51.04 580.52,50.92 581.23,50.85 581.93,50.77 582.63,50.70 583.33,50.62 584.04,50.54 584.74,50.47 585.44,50.39 586.14,50.32 586.85,50.24 587.55,50.17 588.25,50.12 588.95,50.07 589.66,50.02 590.36,49.97 591.06,49.93 591.76,49.88 592.47,49.83 593.17,49.78 593.87,49.74 594.57,49.69 595.28,49.67 595.98,49.65 596.68,49.63 597.38,49.61 598.09,49.59 598.79,49.58 599.49,49.56 600.19,49.54 600.90,49.52 601.60,49.50 602.30,49.50 603.00,49.50 603.70,49.50 604.41,49.50 605.11,49.50 605.81,49.50 606.51,49.50 607.22,49.50 607.92,49.50 608.62,49.50 609.32,49.50 610.03,49.50 610.73,49.50 611.43,49.50 612.13,49.50 612.84,49.50 613.54,49.50 614.24,49.50 614.94,49.50 615.65,49.50 616.35,49.50 617.05,49.50 617.75,49.50 618.46,49.50 619.16,49.50 619.86,49.50 620.56,49.50 621.27,49.50 621.97,49.50 622.67,49.50 623.37,49.50 624.08,49.50 624.78,49.50 625.48,49.50 626.18,49.50 626.89,49.50 627.59,49.50 628.29,49.50 628.99,49.50 629.70,49.50 630.40,49.50 631.10,49.50 631.80,49.50 632.51,49.50 633.21,49.50 633.91,49.50 634.61,49.50 635.32,49.50 636.02,49.50 636.72,49.50 637.42,49.50 638.13,49.50 638.83,49.50 639.53,49.50 640.23,49.50 640.94,49.50 641.64,49.50 642.34,49.50 643.04,49.50 643.75,49.50 644.45,49.50 645.15,49.50 645.85,49.50 646.56,49.50 647.26,49.50 647.96,49.50 648.66,49.50 649.37,49.50 650.07,49.50 650.77,49.50 651.47,49.50 652.18,49.50 652.88,49.50 653.58,49.50 654.28,49.50 654.99,49.50 655.69,49.50 656.39,49.50 657.09,49.50 657.80,49.50" fill="none" stroke="#0000ff" stroke-width="1.55" stroke-linejoin="round" stroke-linecap="round"/>
<path d="M545.40 40.00 H659.20" stroke="#2a2a2a" stroke-width="1.2" fill="none"/>
<path d="M659.20 39.60 V116.60" stroke="#262626" stroke-width="1.35" fill="none"/>
<path d="M545.40 39.60 V116.00 H659.80" stroke="#0a0a0a" stroke-width="1.25" fill="none" stroke-linejoin="miter"/>
<path d="M542.30 116.00 H545.40" stroke="#000" stroke-width="1.05" fill="none"/>
<text x="541.70" y="119.57" font-size="8.3" text-anchor="end" fill="#000">30</text>
<path d="M542.30 106.50 H545.40" stroke="#000" stroke-width="1.05" fill="none"/>
<text x="541.70" y="110.07" font-size="8.3" text-anchor="end" fill="#000">40</text>
<path d="M542.30 97.00 H545.40" stroke="#000" stroke-width="1.05" fill="none"/>
<text x="541.70" y="100.57" font-size="8.3" text-anchor="end" fill="#000">50</text>
<path d="M542.30 87.50 H545.40" stroke="#000" stroke-width="1.05" fill="none"/>
<text x="541.70" y="91.07" font-size="8.3" text-anchor="end" fill="#000">60</text>
<path d="M542.30 78.00 H545.40" stroke="#000" stroke-width="1.05" fill="none"/>
<text x="541.70" y="81.57" font-size="8.3" text-anchor="end" fill="#000">70</text>
<path d="M542.30 68.50 H545.40" stroke="#000" stroke-width="1.05" fill="none"/>
<text x="541.70" y="72.07" font-size="8.3" text-anchor="end" fill="#000">80</text>
<path d="M542.30 59.00 H545.40" stroke="#000" stroke-width="1.05" fill="none"/>
<text x="541.70" y="62.57" font-size="8.3" text-anchor="end" fill="#000">90</text>
<path d="M542.30 49.50 H545.40" stroke="#000" stroke-width="1.05" fill="none"/>
<text x="541.70" y="53.07" font-size="8.3" text-anchor="end" fill="#000">100</text>
<path d="M542.30 40.00 H545.40" stroke="#000" stroke-width="1.05" fill="none"/>
<text x="541.70" y="45.17" font-size="8.3" text-anchor="end" fill="#000">110</text>
<path d="M659.20 116.00 H663.10" stroke="#111" stroke-width="1.05" fill="none"/>
<text x="665.10" y="119.53" font-size="8.450000000000001" text-anchor="start" fill="#000">0.0</text>
<path d="M659.20 90.67 H663.10" stroke="#111" stroke-width="1.05" fill="none"/>
<text x="665.10" y="94.19" font-size="8.450000000000001" text-anchor="start" fill="#000">0.5</text>
<path d="M659.20 65.33 H663.10" stroke="#111" stroke-width="1.05" fill="none"/>
<text x="665.10" y="68.86" font-size="8.450000000000001" text-anchor="start" fill="#000">1.0</text>
<path d="M659.20 40.00 H663.10" stroke="#111" stroke-width="1.05" fill="none"/>
<text x="665.10" y="43.53" font-size="8.450000000000001" text-anchor="start" fill="#000">1.5</text>
<path d="M545.40 116.00 V119.40" stroke="#000" stroke-width="1.05" fill="none"/>
<text x="545.40" y="128.73" font-size="8.450000000000001" text-anchor="middle" fill="#000">0</text>
<path d="M573.50 116.00 V119.40" stroke="#000" stroke-width="1.05" fill="none"/>
<text x="573.50" y="128.73" font-size="8.450000000000001" text-anchor="middle" fill="#000">20</text>
<path d="M601.60 116.00 V119.40" stroke="#000" stroke-width="1.05" fill="none"/>
<text x="601.60" y="128.73" font-size="8.450000000000001" text-anchor="middle" fill="#000">40</text>
<path d="M629.70 116.00 V119.40" stroke="#000" stroke-width="1.05" fill="none"/>
<text x="629.70" y="128.73" font-size="8.450000000000001" text-anchor="middle" fill="#000">60</text>
<path d="M657.80 116.00 V119.40" stroke="#000" stroke-width="1.05" fill="none"/>
<text x="657.80" y="128.73" font-size="8.450000000000001" text-anchor="middle" fill="#000">80</text>
<text x="601.90" y="28.22" font-size="8.15" text-anchor="middle" fill="#000">LDA</text>
<text x="601.90" y="37.42" font-size="8.15" text-anchor="middle" fill="#000">Accuracy: 100.0%</text>
<text x="602.30" y="139.62" font-size="8.15" text-anchor="middle" fill="#000">Number of features</text>
<text x="528.72" y="78.40" font-size="8.15" text-anchor="middle" fill="#000" transform="rotate(-90 528.72 78.40)">Accuracy (%)</text>
<text x="676.98" y="78.40" font-size="8.15" text-anchor="middle" fill="#000" transform="rotate(90 676.98 78.40)">MRMR score (a.u.)</text>
<polygon points="216.46,247.20 216.46,196.80 217.34,197.78 218.02,201.81 219.38,214.57 220.74,215.67 222.10,217.76 223.46,224.01 224.82,227.21 226.18,231.28 227.54,233.45 228.90,233.91 230.27,233.91 231.63,234.86 232.99,235.81 234.35,236.65 235.71,237.41 237.07,237.79 238.43,238.10 239.79,238.67 241.15,239.09 242.51,240.08 243.87,240.57 245.23,240.84 246.59,241.26 247.95,241.26 249.31,241.49 250.67,241.49 252.03,241.98 253.39,241.98 254.75,242.06 256.11,242.14 257.48,242.29 258.84,242.40 260.20,242.48 261.56,242.78 262.92,242.90 264.28,243.05 265.64,243.13 267.00,243.13 268.36,243.20 269.72,243.20 271.08,243.20 272.44,243.62 273.80,243.62 275.16,243.62 276.52,243.62 277.88,243.73 279.24,243.89 280.60,244.04 281.96,244.12 283.32,244.19 284.69,244.31 286.05,244.31 287.41,244.38 288.77,244.53 290.13,244.19 291.49,244.61 292.85,244.69 294.21,244.76 295.57,244.88 296.93,245.03 298.29,245.14 299.65,245.26 301.01,245.30 302.37,245.30 303.73,245.37 305.09,245.45 306.45,245.45 307.81,245.52 309.17,245.52 310.53,245.52 311.90,245.52 313.26,245.87 314.62,245.94 315.98,246.17 317.34,246.17 318.70,246.17 320.06,246.17 321.42,246.25 322.78,246.25 324.14,246.63 325.50,246.63 325.50,247.20" fill="#c2c2c2"/>
<polyline points="216.66,231.60 217.34,223.19 218.02,208.66 218.70,205.45 219.38,202.24 220.06,200.41 220.74,198.57 221.42,197.20 222.10,195.82 222.78,194.90 223.46,193.99 224.14,193.38 224.82,192.68 225.50,191.94 226.18,191.22 226.86,190.63 227.54,190.16 228.22,189.57 228.90,188.90 229.59,188.50 230.27,188.06 230.95,187.60 231.63,187.02 232.31,186.79 232.99,186.40 233.67,186.10 234.35,185.74 235.03,185.29 235.71,184.90 236.39,184.65 237.07,184.32 237.75,184.13 238.43,184.13 239.11,184.07 239.79,183.82 240.47,183.81 241.15,183.65 241.83,183.63 242.51,183.46 243.19,183.48 243.87,183.48 244.55,183.45 245.23,183.30 245.91,183.22 246.59,183.12 247.27,183.22 247.95,183.06 248.63,183.05 249.31,182.97 249.99,183.04 250.67,183.01 251.35,182.97 252.03,182.90 252.71,183.05 253.39,182.98 254.07,182.92 254.75,182.89 255.43,183.03 256.11,183.04 256.80,182.89 257.48,182.89 258.16,182.98 258.84,183.06 259.52,182.90 260.20,183.00 260.88,182.90 261.56,182.95 262.24,182.92 262.92,183.04 263.60,182.92 264.28,183.03 264.96,182.99 265.64,182.91 266.32,182.91 267.00,183.03 267.68,183.03 268.36,182.99 269.04,182.97 269.72,183.00 270.40,183.04 271.08,183.02 271.76,182.93 272.44,182.90 273.12,183.06 273.80,182.96 274.48,182.93 275.16,183.06 275.84,182.91 276.52,183.05 277.20,182.96 277.88,182.97 278.56,182.95 279.24,183.01 279.92,182.99 280.60,182.96 281.28,182.99 281.96,182.95 282.64,182.98 283.32,182.99 284.00,183.06 284.69,182.95 285.37,182.98 286.05,183.02 286.73,182.93 287.41,182.92 288.09,182.98 288.77,183.03 289.45,182.98 290.13,183.05 290.81,183.04 291.49,182.99 292.17,183.05 292.85,182.99 293.53,182.97 294.21,183.06 294.89,182.95 295.57,183.05 296.25,182.93 296.93,182.92 297.61,182.97 298.29,183.06 298.97,182.97 299.65,183.00 300.33,182.89 301.01,183.04 301.69,182.91 302.37,182.88 303.05,182.93 303.73,182.92 304.41,183.03 305.09,182.89 305.77,182.98 306.45,182.89 307.13,182.90 307.81,183.04 308.49,182.92 309.17,182.90 309.85,183.05 310.53,183.00 311.21,182.93 311.90,183.04 312.58,182.90 313.26,183.02 313.94,182.92 314.62,183.04 315.30,182.97 315.98,182.90 316.66,183.03 317.34,183.02 318.02,182.97 318.70,183.01 319.38,183.06 320.06,183.03 320.74,183.04 321.42,182.89 322.10,182.94 322.78,182.90 323.46,183.04 324.14,182.92" fill="none" stroke="#ff0000" stroke-width="1.55" stroke-linejoin="round" stroke-linecap="round"/>
<polyline points="216.66,229.77 217.34,221.36 218.02,206.83 218.70,204.08 219.38,201.32 220.06,199.49 220.74,197.66 221.42,196.28 222.10,194.90 222.78,194.21 223.46,193.53 224.14,192.95 224.82,192.38 225.50,191.81 226.18,191.23 226.86,190.66 227.54,190.09 228.22,189.51 228.90,188.94 229.59,188.48 230.27,188.02 230.95,187.56 231.63,187.10 232.31,186.76 232.99,186.42 233.67,186.07 234.35,185.73 235.03,185.36 235.71,184.99 236.39,184.63 237.07,184.26 237.75,184.17 238.43,184.08 239.11,183.98 239.79,183.89 240.47,183.80 241.15,183.71 241.83,183.62 242.51,183.53 243.19,183.49 243.87,183.45 244.55,183.42 245.23,183.38 245.91,183.34 246.59,183.31 247.27,183.27 247.95,183.23 248.63,183.20 249.31,183.16 249.99,183.14 250.67,183.12 251.35,183.10 252.03,183.09 252.71,183.07 253.39,183.05 254.07,183.03 254.75,183.01 255.43,182.99 256.11,182.98 256.80,182.98 257.48,182.98 258.16,182.98 258.84,182.98 259.52,182.98 260.20,182.98 260.88,182.98 261.56,182.98 262.24,182.98 262.92,182.98 263.60,182.98 264.28,182.98 264.96,182.98 265.64,182.98 266.32,182.98 267.00,182.98 267.68,182.98 268.36,182.98 269.04,182.98 269.72,182.98 270.40,182.98 271.08,182.98 271.76,182.98 272.44,182.98 273.12,182.98 273.80,182.98 274.48,182.98 275.16,182.98 275.84,182.98 276.52,182.98 277.20,182.98 277.88,182.98 278.56,182.98 279.24,182.98 279.92,182.98 280.60,182.98 281.28,182.98 281.96,182.98 282.64,182.98 283.32,182.98 284.00,182.98 284.69,182.98 285.37,182.98 286.05,182.98 286.73,182.98 287.41,182.98 288.09,182.98 288.77,182.98 289.45,182.98 290.13,182.98 290.81,182.98 291.49,182.98 292.17,182.98 292.85,182.98 293.53,182.98 294.21,182.98 294.89,182.98 295.57,182.98 296.25,182.98 296.93,182.98 297.61,182.98 298.29,182.98 298.97,182.98 299.65,182.98 300.33,182.98 301.01,182.98 301.69,182.98 302.37,182.98 303.05,182.98 303.73,182.98 304.41,182.98 305.09,182.98 305.77,182.98 306.45,182.98 307.13,182.98 307.81,182.98 308.49,182.98 309.17,182.98 309.85,182.98 310.53,182.98 311.21,182.98 311.90,182.98 312.58,182.98 313.26,182.98 313.94,182.98 314.62,182.98 315.30,182.98 315.98,182.98 316.66,182.98 317.34,182.98 318.02,182.98 318.70,182.98 319.38,182.98 320.06,182.98 320.74,182.98 321.42,182.98 322.10,182.98 322.78,182.98 323.46,182.98 324.14,182.98" fill="none" stroke="#0000ff" stroke-width="1.55" stroke-linejoin="round" stroke-linecap="round"/>
<path d="M215.30 173.80 H325.50" stroke="#2a2a2a" stroke-width="1.2" fill="none"/>
<path d="M325.50 173.40 V247.80" stroke="#262626" stroke-width="1.35" fill="none"/>
<path d="M215.30 173.40 V247.20 H326.10" stroke="#0a0a0a" stroke-width="1.25" fill="none" stroke-linejoin="miter"/>
<path d="M212.20 247.20 H215.30" stroke="#000" stroke-width="1.05" fill="none"/>
<text x="211.60" y="250.77" font-size="8.3" text-anchor="end" fill="#000">30</text>
<path d="M212.20 238.02 H215.30" stroke="#000" stroke-width="1.05" fill="none"/>
<text x="211.60" y="241.60" font-size="8.3" text-anchor="end" fill="#000">40</text>
<path d="M212.20 228.85 H215.30" stroke="#000" stroke-width="1.05" fill="none"/>
<text x="211.60" y="232.42" font-size="8.3" text-anchor="end" fill="#000">50</text>
<path d="M212.20 219.68 H215.30" stroke="#000" stroke-width="1.05" fill="none"/>
<text x="211.60" y="223.25" font-size="8.3" text-anchor="end" fill="#000">60</text>
<path d="M212.20 210.50 H215.30" stroke="#000" stroke-width="1.05" fill="none"/>
<text x="211.60" y="214.07" font-size="8.3" text-anchor="end" fill="#000">70</text>
<path d="M212.20 201.32 H215.30" stroke="#000" stroke-width="1.05" fill="none"/>
<text x="211.60" y="204.90" font-size="8.3" text-anchor="end" fill="#000">80</text>
<path d="M212.20 192.15 H215.30" stroke="#000" stroke-width="1.05" fill="none"/>
<text x="211.60" y="195.72" font-size="8.3" text-anchor="end" fill="#000">90</text>
<path d="M212.20 182.98 H215.30" stroke="#000" stroke-width="1.05" fill="none"/>
<text x="211.60" y="186.55" font-size="8.3" text-anchor="end" fill="#000">100</text>
<path d="M212.20 173.80 H215.30" stroke="#000" stroke-width="1.05" fill="none"/>
<text x="211.60" y="177.37" font-size="8.3" text-anchor="end" fill="#000">110</text>
<path d="M325.50 247.20 H329.40" stroke="#111" stroke-width="1.05" fill="none"/>
<text x="331.40" y="250.73" font-size="8.450000000000001" text-anchor="start" fill="#000">0.0</text>
<path d="M325.50 222.73 H329.40" stroke="#111" stroke-width="1.05" fill="none"/>
<text x="331.40" y="226.26" font-size="8.450000000000001" text-anchor="start" fill="#000">0.5</text>
<path d="M325.50 198.27 H329.40" stroke="#111" stroke-width="1.05" fill="none"/>
<text x="331.40" y="201.79" font-size="8.450000000000001" text-anchor="start" fill="#000">1.0</text>
<path d="M325.50 173.80 H329.40" stroke="#111" stroke-width="1.05" fill="none"/>
<text x="331.40" y="177.33" font-size="8.450000000000001" text-anchor="start" fill="#000">1.5</text>
<path d="M215.30 247.20 V250.60" stroke="#000" stroke-width="1.05" fill="none"/>
<text x="215.30" y="259.93" font-size="8.450000000000001" text-anchor="middle" fill="#000">0</text>
<path d="M242.51 247.20 V250.60" stroke="#000" stroke-width="1.05" fill="none"/>
<text x="242.51" y="259.93" font-size="8.450000000000001" text-anchor="middle" fill="#000">20</text>
<path d="M269.72 247.20 V250.60" stroke="#000" stroke-width="1.05" fill="none"/>
<text x="269.72" y="259.93" font-size="8.450000000000001" text-anchor="middle" fill="#000">40</text>
<path d="M296.93 247.20 V250.60" stroke="#000" stroke-width="1.05" fill="none"/>
<text x="296.93" y="259.93" font-size="8.450000000000001" text-anchor="middle" fill="#000">60</text>
<path d="M324.14 247.20 V250.60" stroke="#000" stroke-width="1.05" fill="none"/>
<text x="324.14" y="259.93" font-size="8.450000000000001" text-anchor="middle" fill="#000">80</text>
<text x="270.00" y="161.22" font-size="8.15" text-anchor="middle" fill="#000">SVM</text>
<text x="270.00" y="170.42" font-size="8.15" text-anchor="middle" fill="#000">Accuracy: 100.0%</text>
<text x="270.40" y="270.82" font-size="8.15" text-anchor="middle" fill="#000">Number of features</text>
<text x="195.12" y="215.00" font-size="8.15" text-anchor="middle" fill="#000" transform="rotate(-90 195.12 215.00)">Accuracy (%)</text>
<text x="344.18" y="215.00" font-size="8.15" text-anchor="middle" fill="#000" transform="rotate(90 344.18 215.00)">MRMR score (a.u.)</text>
<polygon points="382.16,247.20 382.16,196.94 383.04,197.91 383.73,201.93 385.09,214.65 386.45,215.76 387.81,217.84 389.18,224.07 390.54,227.26 391.90,231.33 393.27,233.49 394.63,233.95 395.99,233.95 397.36,234.90 398.72,235.84 400.08,236.68 401.44,237.44 402.81,237.82 404.17,238.12 405.53,238.69 406.90,239.11 408.26,240.10 409.62,240.59 410.99,240.86 412.35,241.28 413.71,241.28 415.07,241.50 416.44,241.50 417.80,242.00 419.16,242.00 420.53,242.07 421.89,242.15 423.25,242.30 424.61,242.41 425.98,242.49 427.34,242.79 428.70,242.91 430.07,243.06 431.43,243.14 432.79,243.14 434.16,243.21 435.52,243.21 436.88,243.21 438.24,243.63 439.61,243.63 440.97,243.63 442.33,243.63 443.70,243.74 445.06,243.90 446.42,244.05 447.79,244.12 449.15,244.20 450.51,244.31 451.87,244.31 453.24,244.39 454.60,244.54 455.96,244.20 457.33,244.62 458.69,244.69 460.05,244.77 461.41,244.88 462.78,245.04 464.14,245.15 465.50,245.26 466.87,245.30 468.23,245.30 469.59,245.38 470.96,245.45 472.32,245.45 473.68,245.53 475.04,245.53 476.41,245.53 477.77,245.53 479.13,245.87 480.50,245.95 481.86,246.17 483.22,246.17 484.59,246.17 485.95,246.17 487.31,246.25 488.67,246.25 490.04,246.63 491.40,246.63 491.40,247.20" fill="#c2c2c2"/>
<polyline points="382.36,208.77 383.04,203.28 383.73,195.96 384.41,194.59 385.09,193.22 385.77,192.53 386.45,191.84 387.13,191.38 387.81,190.93 388.50,190.93 389.18,190.93 389.86,190.96 390.54,190.99 391.22,190.10 391.90,189.18 392.59,187.92 393.27,186.79 393.95,185.86 394.63,184.94 395.31,184.83 395.99,184.51 396.67,184.32 397.36,184.01 398.04,183.82 398.72,183.63 399.40,183.60 400.08,183.27 400.76,183.23 401.44,183.19 402.13,183.31 402.81,183.26 403.49,183.25 404.17,183.24 404.85,183.09 405.53,183.09 406.21,183.13 406.90,183.09 407.58,183.13 408.26,183.19 408.94,183.22 409.62,183.22 410.30,183.10 410.99,183.20 411.67,183.18 412.35,183.16 413.03,183.24 413.71,183.19 414.39,183.19 415.07,183.11 415.76,183.17 416.44,183.18 417.12,183.07 417.80,183.15 418.48,183.09 419.16,183.13 419.84,183.24 420.53,183.17 421.21,183.16 421.89,183.10 422.57,183.18 423.25,183.11 423.93,183.14 424.61,183.20 425.30,183.08 425.98,183.22 426.66,183.09 427.34,183.21 428.02,183.24 428.70,183.20 429.39,183.10 430.07,183.06 430.75,183.24 431.43,183.15 432.11,183.15 432.79,183.10 433.47,183.21 434.16,183.15 434.84,183.18 435.52,183.09 436.20,183.19 436.88,183.07 437.56,183.19 438.24,183.20 438.93,183.11 439.61,183.15 440.29,183.22 440.97,183.13 441.65,183.23 442.33,183.10 443.01,183.11 443.70,183.10 444.38,183.13 445.06,183.18 445.74,183.17 446.42,183.17 447.10,183.08 447.79,183.23 448.47,183.08 449.15,183.24 449.83,183.20 450.51,183.19 451.19,183.08 451.87,183.15 452.56,183.17 453.24,183.08 453.92,183.20 454.60,183.16 455.28,183.14 455.96,183.10 456.64,183.10 457.33,183.12 458.01,183.18 458.69,183.18 459.37,183.21 460.05,183.09 460.73,183.12 461.41,183.11 462.10,183.21 462.78,183.16 463.46,183.10 464.14,183.14 464.82,183.22 465.50,183.16 466.19,183.08 466.87,183.20 467.55,183.21 468.23,183.19 468.91,183.11 469.59,183.09 470.27,183.21 470.96,183.21 471.64,183.20 472.32,183.18 473.00,183.15 473.68,183.21 474.36,183.18 475.04,183.21 475.73,183.06 476.41,183.11 477.09,183.22 477.77,183.07 478.45,183.22 479.13,183.17 479.81,183.06 480.50,183.10 481.18,183.11 481.86,183.16 482.54,183.21 483.22,183.12 483.90,183.22 484.59,183.20 485.27,183.17 485.95,183.24 486.63,183.17 487.31,183.10 487.99,183.11 488.67,183.15 489.36,183.13 490.04,183.16" fill="none" stroke="#ff0000" stroke-width="1.55" stroke-linejoin="round" stroke-linecap="round"/>
<polyline points="382.36,208.77 383.04,203.28 383.73,195.96 384.41,194.36 385.09,192.76 385.77,192.07 386.45,191.38 387.13,191.16 387.81,190.93 388.50,190.93 389.18,190.93 389.86,190.93 390.54,190.93 391.22,190.24 391.90,189.56 392.59,188.64 393.27,187.72 393.95,187.04 394.63,186.35 395.31,186.01 395.99,185.67 396.67,185.32 397.36,184.98 398.04,184.75 398.72,184.52 399.40,184.29 400.08,184.06 400.76,183.96 401.44,183.85 402.13,183.74 402.81,183.64 403.49,183.53 404.17,183.42 404.85,183.38 405.53,183.33 406.21,183.29 406.90,183.24 407.58,183.20 408.26,183.15 408.94,183.15 409.62,183.15 410.30,183.15 410.99,183.15 411.67,183.15 412.35,183.15 413.03,183.15 413.71,183.15 414.39,183.15 415.07,183.15 415.76,183.15 416.44,183.15 417.12,183.15 417.80,183.15 418.48,183.15 419.16,183.15 419.84,183.15 420.53,183.15 421.21,183.15 421.89,183.15 422.57,183.15 423.25,183.15 423.93,183.15 424.61,183.15 425.30,183.15 425.98,183.15 426.66,183.15 427.34,183.15 428.02,183.15 428.70,183.15 429.39,183.15 430.07,183.15 430.75,183.15 431.43,183.15 432.11,183.15 432.79,183.15 433.47,183.15 434.16,183.15 434.84,183.15 435.52,183.15 436.20,183.15 436.88,183.15 437.56,183.15 438.24,183.15 438.93,183.15 439.61,183.15 440.29,183.15 440.97,183.15 441.65,183.15 442.33,183.15 443.01,183.15 443.70,183.15 444.38,183.15 445.06,183.15 445.74,183.15 446.42,183.15 447.10,183.15 447.79,183.15 448.47,183.15 449.15,183.15 449.83,183.15 450.51,183.15 451.19,183.15 451.87,183.15 452.56,183.15 453.24,183.15 453.92,183.15 454.60,183.15 455.28,183.15 455.96,183.15 456.64,183.15 457.33,183.15 458.01,183.15 458.69,183.15 459.37,183.15 460.05,183.15 460.73,183.15 461.41,183.15 462.10,183.15 462.78,183.15 463.46,183.15 464.14,183.15 464.82,183.15 465.50,183.15 466.19,183.15 466.87,183.15 467.55,183.15 468.23,183.15 468.91,183.15 469.59,183.15 470.27,183.15 470.96,183.15 471.64,183.15 472.32,183.15 473.00,183.15 473.68,183.15 474.36,183.15 475.04,183.15 475.73,183.15 476.41,183.15 477.09,183.15 477.77,183.15 478.45,183.15 479.13,183.15 479.81,183.15 480.50,183.15 481.18,183.15 481.86,183.15 482.54,183.15 483.22,183.15 483.90,183.15 484.59,183.15 485.27,183.15 485.95,183.15 486.63,183.15 487.31,183.15 487.99,183.15 488.67,183.15 489.36,183.15 490.04,183.15" fill="none" stroke="#0000ff" stroke-width="1.55" stroke-linejoin="round" stroke-linecap="round"/>
<path d="M381.00 174.00 H491.40" stroke="#2a2a2a" stroke-width="1.2" fill="none"/>
<path d="M491.40 173.60 V247.80" stroke="#262626" stroke-width="1.35" fill="none"/>
<path d="M381.00 173.60 V247.20 H492.00" stroke="#0a0a0a" stroke-width="1.25" fill="none" stroke-linejoin="miter"/>
<path d="M377.90 247.20 H381.00" stroke="#000" stroke-width="1.05" fill="none"/>
<text x="377.30" y="250.77" font-size="8.3" text-anchor="end" fill="#000">30</text>
<path d="M377.90 238.05 H381.00" stroke="#000" stroke-width="1.05" fill="none"/>
<text x="377.30" y="241.62" font-size="8.3" text-anchor="end" fill="#000">40</text>
<path d="M377.90 228.90 H381.00" stroke="#000" stroke-width="1.05" fill="none"/>
<text x="377.30" y="232.47" font-size="8.3" text-anchor="end" fill="#000">50</text>
<path d="M377.90 219.75 H381.00" stroke="#000" stroke-width="1.05" fill="none"/>
<text x="377.30" y="223.32" font-size="8.3" text-anchor="end" fill="#000">60</text>
<path d="M377.90 210.60 H381.00" stroke="#000" stroke-width="1.05" fill="none"/>
<text x="377.30" y="214.17" font-size="8.3" text-anchor="end" fill="#000">70</text>
<path d="M377.90 201.45 H381.00" stroke="#000" stroke-width="1.05" fill="none"/>
<text x="377.30" y="205.02" font-size="8.3" text-anchor="end" fill="#000">80</text>
<path d="M377.90 192.30 H381.00" stroke="#000" stroke-width="1.05" fill="none"/>
<text x="377.30" y="195.87" font-size="8.3" text-anchor="end" fill="#000">90</text>
<path d="M377.90 183.15 H381.00" stroke="#000" stroke-width="1.05" fill="none"/>
<text x="377.30" y="186.72" font-size="8.3" text-anchor="end" fill="#000">100</text>
<path d="M377.90 174.00 H381.00" stroke="#000" stroke-width="1.05" fill="none"/>
<text x="377.30" y="177.57" font-size="8.3" text-anchor="end" fill="#000">110</text>
<path d="M491.40 247.20 H495.30" stroke="#111" stroke-width="1.05" fill="none"/>
<text x="497.30" y="250.73" font-size="8.450000000000001" text-anchor="start" fill="#000">0.0</text>
<path d="M491.40 222.80 H495.30" stroke="#111" stroke-width="1.05" fill="none"/>
<text x="497.30" y="226.33" font-size="8.450000000000001" text-anchor="start" fill="#000">0.5</text>
<path d="M491.40 198.40 H495.30" stroke="#111" stroke-width="1.05" fill="none"/>
<text x="497.30" y="201.93" font-size="8.450000000000001" text-anchor="start" fill="#000">1.0</text>
<path d="M491.40 174.00 H495.30" stroke="#111" stroke-width="1.05" fill="none"/>
<text x="497.30" y="177.53" font-size="8.450000000000001" text-anchor="start" fill="#000">1.5</text>
<path d="M381.00 247.20 V250.60" stroke="#000" stroke-width="1.05" fill="none"/>
<text x="381.00" y="259.93" font-size="8.450000000000001" text-anchor="middle" fill="#000">0</text>
<path d="M408.26 247.20 V250.60" stroke="#000" stroke-width="1.05" fill="none"/>
<text x="408.26" y="259.93" font-size="8.450000000000001" text-anchor="middle" fill="#000">20</text>
<path d="M435.52 247.20 V250.60" stroke="#000" stroke-width="1.05" fill="none"/>
<text x="435.52" y="259.93" font-size="8.450000000000001" text-anchor="middle" fill="#000">40</text>
<path d="M462.78 247.20 V250.60" stroke="#000" stroke-width="1.05" fill="none"/>
<text x="462.78" y="259.93" font-size="8.450000000000001" text-anchor="middle" fill="#000">60</text>
<path d="M490.04 247.20 V250.60" stroke="#000" stroke-width="1.05" fill="none"/>
<text x="490.04" y="259.93" font-size="8.450000000000001" text-anchor="middle" fill="#000">80</text>
<text x="435.80" y="161.22" font-size="8.15" text-anchor="middle" fill="#000">NN</text>
<text x="435.80" y="170.42" font-size="8.15" text-anchor="middle" fill="#000">Accuracy: 99.8%</text>
<text x="436.20" y="270.82" font-size="8.15" text-anchor="middle" fill="#000">Number of features</text>
<text x="362.12" y="215.10" font-size="8.15" text-anchor="middle" fill="#000" transform="rotate(-90 362.12 215.10)">Accuracy (%)</text>
<text x="511.18" y="215.10" font-size="8.15" text-anchor="middle" fill="#000" transform="rotate(90 511.18 215.10)">MRMR score (a.u.)</text>
<polygon points="548.46,247.20 548.46,196.80 549.35,197.78 550.03,201.81 551.39,214.57 552.76,215.67 554.12,217.76 555.49,224.01 556.85,227.21 558.21,231.28 559.58,233.45 560.94,233.91 562.31,233.91 563.67,234.86 565.03,235.81 566.40,236.65 567.76,237.41 569.13,237.79 570.49,238.10 571.86,238.67 573.22,239.09 574.58,240.08 575.95,240.57 577.31,240.84 578.68,241.26 580.04,241.26 581.40,241.49 582.77,241.49 584.13,241.98 585.50,241.98 586.86,242.06 588.23,242.14 589.59,242.29 590.95,242.40 592.32,242.48 593.68,242.78 595.05,242.90 596.41,243.05 597.78,243.13 599.14,243.13 600.50,243.20 601.87,243.20 603.23,243.20 604.60,243.62 605.96,243.62 607.32,243.62 608.69,243.62 610.05,243.73 611.42,243.89 612.78,244.04 614.15,244.12 615.51,244.19 616.87,244.31 618.24,244.31 619.60,244.38 620.97,244.53 622.33,244.19 623.70,244.61 625.06,244.69 626.42,244.76 627.79,244.88 629.15,245.03 630.52,245.14 631.88,245.26 633.24,245.30 634.61,245.30 635.97,245.37 637.34,245.45 638.70,245.45 640.07,245.52 641.43,245.52 642.79,245.52 644.16,245.52 645.52,245.87 646.89,245.94 648.25,246.17 649.61,246.17 650.98,246.17 652.34,246.17 653.71,246.25 655.07,246.25 656.44,246.63 657.80,246.63 657.80,247.20" fill="#c2c2c2"/>
<polyline points="548.66,205.91 549.35,201.32 550.03,196.74 550.71,195.82 551.39,194.90 552.07,194.21 552.76,193.53 553.44,192.84 554.12,192.15 554.80,191.69 555.49,191.23 556.17,190.76 556.85,190.38 557.53,189.93 558.21,189.50 558.90,189.40 559.58,189.52 560.26,189.41 560.94,189.50 561.62,189.17 562.31,188.94 562.99,188.70 563.67,188.38 564.35,188.49 565.03,188.14 565.72,188.12 566.40,187.97 567.08,187.82 567.76,187.65 568.45,187.83 569.13,187.86 569.81,187.76 570.49,188.05 571.17,187.94 571.86,187.98 572.54,188.15 573.22,187.99 573.90,187.96 574.58,187.89 575.27,188.06 575.95,187.88 576.63,188.00 577.31,188.01 577.99,187.89 578.68,188.13 579.36,187.94 580.04,187.96 580.72,188.04 581.40,187.89 582.09,188.03 582.77,187.99 583.45,187.98 584.13,187.91 584.82,188.06 585.50,188.00 586.18,188.00 586.86,187.96 587.54,187.88 588.23,188.03 588.91,187.88 589.59,187.99 590.27,187.96 590.95,188.02 591.64,187.96 592.32,187.82 593.00,187.91 593.68,187.87 594.36,188.00 595.05,188.00 595.73,188.00 596.41,187.92 597.09,187.90 597.78,187.86 598.46,188.06 599.14,187.87 599.82,187.83 600.50,187.92 601.19,188.05 601.87,187.98 602.55,188.06 603.23,188.01 603.91,187.80 604.60,187.89 605.28,187.87 605.96,187.83 606.64,187.80 607.32,187.88 608.01,187.87 608.69,187.87 609.37,187.85 610.05,187.87 610.74,187.85 611.42,187.97 612.10,187.85 612.78,187.90 613.46,187.82 614.15,188.00 614.83,187.97 615.51,188.01 616.19,187.80 616.87,187.76 617.56,187.83 618.24,187.91 618.92,187.78 619.60,187.79 620.28,187.85 620.97,187.93 621.65,187.92 622.33,187.88 623.01,187.91 623.70,187.87 624.38,187.81 625.06,187.73 625.74,187.97 626.42,187.83 627.11,187.97 627.79,187.95 628.47,187.75 629.15,187.82 629.83,187.70 630.52,187.81 631.20,187.90 631.88,187.78 632.56,187.70 633.24,187.58 633.93,187.54 634.61,187.66 635.29,187.66 635.97,187.72 636.65,187.55 637.34,187.64 638.02,187.64 638.70,187.65 639.38,187.63 640.07,187.42 640.75,187.55 641.43,187.30 642.11,187.52 642.79,187.28 643.48,187.48 644.16,187.51 644.84,187.32 645.52,187.45 646.20,187.31 646.89,187.47 647.57,187.50 648.25,187.30 648.93,187.32 649.61,187.28 650.30,187.32 650.98,187.49 651.66,187.34 652.34,187.32 653.03,187.39 653.71,187.26 654.39,187.45 655.07,187.25 655.75,187.32 656.44,187.51" fill="none" stroke="#ff0000" stroke-width="1.55" stroke-linejoin="round" stroke-linecap="round"/>
<polyline points="548.66,205.91 549.35,201.32 550.03,196.74 550.71,195.82 551.39,194.90 552.07,194.21 552.76,193.53 553.44,192.84 554.12,192.15 554.80,191.69 555.49,191.23 556.17,191.00 556.85,190.77 557.53,190.54 558.21,190.31 558.90,190.09 559.58,189.86 560.26,189.63 560.94,189.40 561.62,189.10 562.31,188.80 562.99,188.50 563.67,188.20 564.35,188.13 565.03,188.05 565.72,187.98 566.40,187.90 567.08,187.82 567.76,187.75 568.45,187.79 569.13,187.84 569.81,187.88 570.49,187.93 571.17,187.98 571.86,188.02 572.54,188.02 573.22,188.02 573.90,188.02 574.58,188.02 575.27,188.02 575.95,188.02 576.63,188.02 577.31,188.02 577.99,188.02 578.68,188.02 579.36,188.02 580.04,188.02 580.72,188.02 581.40,188.02 582.09,188.02 582.77,188.02 583.45,188.02 584.13,188.02 584.82,188.02 585.50,188.02 586.18,188.02 586.86,188.02 587.54,188.02 588.23,188.02 588.91,188.02 589.59,188.02 590.27,188.02 590.95,188.02 591.64,188.02 592.32,188.02 593.00,188.02 593.68,188.02 594.36,188.02 595.05,188.02 595.73,188.02 596.41,188.02 597.09,188.02 597.78,188.02 598.46,188.02 599.14,188.02 599.82,188.02 600.50,188.02 601.19,188.02 601.87,188.02 602.55,188.02 603.23,188.02 603.91,188.02 604.60,188.02 605.28,188.02 605.96,188.02 606.64,188.02 607.32,188.02 608.01,188.02 608.69,188.02 609.37,188.02 610.05,188.02 610.74,188.02 611.42,188.02 612.10,188.02 612.78,188.02 613.46,188.02 614.15,188.02 614.83,188.02 615.51,188.02 616.19,188.02 616.87,188.02 617.56,188.02 618.24,188.02 618.92,188.02 619.60,188.02 620.28,188.02 620.97,188.02 621.65,188.02 622.33,188.02 623.01,188.02 623.70,188.02 624.38,188.02 625.06,188.02 625.74,188.02 626.42,188.02 627.11,188.02 627.79,188.02 628.47,188.02 629.15,188.02 629.83,188.02 630.52,188.02 631.20,188.02 631.88,188.02 632.56,188.02 633.24,188.02 633.93,188.02 634.61,188.02 635.29,188.02 635.97,188.02 636.65,188.02 637.34,188.02 638.02,188.02 638.70,188.02 639.38,188.02 640.07,188.02 640.75,188.02 641.43,188.02 642.11,188.02 642.79,188.02 643.48,188.02 644.16,188.02 644.84,188.02 645.52,188.02 646.20,188.02 646.89,188.02 647.57,188.02 648.25,188.02 648.93,188.02 649.61,188.02 650.30,188.02 650.98,188.02 651.66,188.02 652.34,188.02 653.03,188.02 653.71,188.02 654.39,188.02 655.07,188.02 655.75,188.02 656.44,188.02" fill="none" stroke="#0000ff" stroke-width="1.55" stroke-linejoin="round" stroke-linecap="round"/>
<path d="M547.30 173.80 H657.80" stroke="#2a2a2a" stroke-width="1.2" fill="none"/>
<path d="M657.80 173.40 V247.80" stroke="#262626" stroke-width="1.35" fill="none"/>
<path d="M547.30 173.40 V247.20 H658.40" stroke="#0a0a0a" stroke-width="1.25" fill="none" stroke-linejoin="miter"/>
<path d="M544.20 247.20 H547.30" stroke="#000" stroke-width="1.05" fill="none"/>
<text x="543.60" y="250.77" font-size="8.3" text-anchor="end" fill="#000">30</text>
<path d="M544.20 238.02 H547.30" stroke="#000" stroke-width="1.05" fill="none"/>
<text x="543.60" y="241.60" font-size="8.3" text-anchor="end" fill="#000">40</text>
<path d="M544.20 228.85 H547.30" stroke="#000" stroke-width="1.05" fill="none"/>
<text x="543.60" y="232.42" font-size="8.3" text-anchor="end" fill="#000">50</text>
<path d="M544.20 219.68 H547.30" stroke="#000" stroke-width="1.05" fill="none"/>
<text x="543.60" y="223.25" font-size="8.3" text-anchor="end" fill="#000">60</text>
<path d="M544.20 210.50 H547.30" stroke="#000" stroke-width="1.05" fill="none"/>
<text x="543.60" y="214.07" font-size="8.3" text-anchor="end" fill="#000">70</text>
<path d="M544.20 201.32 H547.30" stroke="#000" stroke-width="1.05" fill="none"/>
<text x="543.60" y="204.90" font-size="8.3" text-anchor="end" fill="#000">80</text>
<path d="M544.20 192.15 H547.30" stroke="#000" stroke-width="1.05" fill="none"/>
<text x="543.60" y="195.72" font-size="8.3" text-anchor="end" fill="#000">90</text>
<path d="M544.20 182.98 H547.30" stroke="#000" stroke-width="1.05" fill="none"/>
<text x="543.60" y="186.55" font-size="8.3" text-anchor="end" fill="#000">100</text>
<path d="M544.20 173.80 H547.30" stroke="#000" stroke-width="1.05" fill="none"/>
<text x="543.60" y="177.37" font-size="8.3" text-anchor="end" fill="#000">110</text>
<path d="M657.80 247.20 H661.70" stroke="#111" stroke-width="1.05" fill="none"/>
<text x="663.70" y="250.73" font-size="8.450000000000001" text-anchor="start" fill="#000">0.0</text>
<path d="M657.80 222.73 H661.70" stroke="#111" stroke-width="1.05" fill="none"/>
<text x="663.70" y="226.26" font-size="8.450000000000001" text-anchor="start" fill="#000">0.5</text>
<path d="M657.80 198.27 H661.70" stroke="#111" stroke-width="1.05" fill="none"/>
<text x="663.70" y="201.79" font-size="8.450000000000001" text-anchor="start" fill="#000">1.0</text>
<path d="M657.80 173.80 H661.70" stroke="#111" stroke-width="1.05" fill="none"/>
<text x="663.70" y="177.33" font-size="8.450000000000001" text-anchor="start" fill="#000">1.5</text>
<path d="M547.30 247.20 V250.60" stroke="#000" stroke-width="1.05" fill="none"/>
<text x="547.30" y="259.93" font-size="8.450000000000001" text-anchor="middle" fill="#000">0</text>
<path d="M574.58 247.20 V250.60" stroke="#000" stroke-width="1.05" fill="none"/>
<text x="574.58" y="259.93" font-size="8.450000000000001" text-anchor="middle" fill="#000">20</text>
<path d="M601.87 247.20 V250.60" stroke="#000" stroke-width="1.05" fill="none"/>
<text x="601.87" y="259.93" font-size="8.450000000000001" text-anchor="middle" fill="#000">40</text>
<path d="M629.15 247.20 V250.60" stroke="#000" stroke-width="1.05" fill="none"/>
<text x="629.15" y="259.93" font-size="8.450000000000001" text-anchor="middle" fill="#000">60</text>
<path d="M656.44 247.20 V250.60" stroke="#000" stroke-width="1.05" fill="none"/>
<text x="656.44" y="259.93" font-size="8.450000000000001" text-anchor="middle" fill="#000">80</text>
<text x="602.15" y="160.92" font-size="8.15" text-anchor="middle" fill="#000">DT</text>
<text x="602.15" y="170.52" font-size="8.15" text-anchor="middle" fill="#000">Accuracy: 95.8%</text>
<text x="602.55" y="270.82" font-size="8.15" text-anchor="middle" fill="#000">Number of features</text>
<text x="528.52" y="215.00" font-size="8.15" text-anchor="middle" fill="#000" transform="rotate(-90 528.52 215.00)">Accuracy (%)</text>
<text x="676.68" y="215.00" font-size="8.15" text-anchor="middle" fill="#000" transform="rotate(90 676.68 215.00)">MRMR score (a.u.)</text>
<polygon points="216.44,377.10 216.44,327.25 217.31,328.22 217.98,332.20 219.33,344.82 220.67,345.91 222.01,347.98 223.35,354.16 224.69,357.33 226.04,361.36 227.38,363.50 228.72,363.95 230.06,363.95 231.40,364.90 232.75,365.84 234.09,366.67 235.43,367.42 236.77,367.80 238.11,368.10 239.46,368.66 240.80,369.08 242.14,370.06 243.48,370.55 244.82,370.81 246.17,371.22 247.51,371.22 248.85,371.45 250.19,371.45 251.53,371.94 252.88,371.94 254.22,372.02 255.56,372.09 256.90,372.24 258.24,372.35 259.59,372.43 260.93,372.73 262.27,372.84 263.61,372.99 264.95,373.07 266.30,373.07 267.64,373.15 268.98,373.15 270.32,373.15 271.66,373.56 273.00,373.56 274.35,373.56 275.69,373.56 277.03,373.67 278.37,373.82 279.71,373.97 281.06,374.05 282.40,374.12 283.74,374.24 285.08,374.24 286.42,374.31 287.77,374.46 289.11,374.12 290.45,374.54 291.79,374.61 293.13,374.69 294.48,374.80 295.82,374.95 297.16,375.07 298.50,375.18 299.84,375.22 301.19,375.22 302.53,375.29 303.87,375.37 305.21,375.37 306.55,375.44 307.90,375.44 309.24,375.44 310.58,375.44 311.92,375.78 313.26,375.86 314.61,376.08 315.95,376.08 317.29,376.08 318.63,376.08 319.97,376.16 321.32,376.16 322.66,376.54 324.00,376.54 324.00,377.10" fill="#c2c2c2"/>
<polyline points="216.64,364.40 217.31,358.35 217.98,345.34 218.65,344.43 219.33,343.52 220.00,342.16 220.67,340.80 221.34,332.48 222.01,330.17 222.68,329.36 223.35,328.55 224.02,327.84 224.69,327.50 225.36,327.22 226.04,327.60 226.71,326.70 227.38,326.54 228.05,326.37 228.72,325.84 229.39,326.68 230.06,326.60 230.73,326.05 231.40,325.88 232.07,325.89 232.75,326.01 233.42,325.52 234.09,325.14 234.76,325.62 235.43,325.31 236.10,325.25 236.77,325.26 237.44,324.94 238.11,325.22 238.78,325.16 239.46,325.24 240.13,325.32 240.80,326.50 241.47,326.42 242.14,327.46 242.81,327.65 243.48,326.89 244.15,327.58 244.82,326.98 245.49,327.08 246.17,327.11 246.84,327.83 247.51,327.60 248.18,327.96 248.85,327.25 249.52,327.42 250.19,327.71 250.86,327.96 251.53,328.15 252.20,327.80 252.88,328.21 253.55,328.16 254.22,328.69 254.89,328.71 255.56,328.95 256.23,328.43 256.90,328.65 257.57,329.10 258.24,328.52 258.91,329.15 259.59,329.09 260.26,329.40 260.93,329.37 261.60,328.93 262.27,329.47 262.94,329.70 263.61,329.48 264.28,329.72 264.95,329.26 265.62,330.06 266.30,329.35 266.97,330.26 267.64,329.58 268.31,329.86 268.98,330.35 269.65,330.20 270.32,330.47 270.99,330.58 271.66,330.73 272.33,330.67 273.00,330.19 273.68,330.27 274.35,330.43 275.02,331.27 275.69,331.19 276.36,330.73 277.03,331.58 277.70,331.07 278.37,331.55 279.04,331.02 279.71,331.98 280.39,331.36 281.06,331.87 281.73,332.14 282.40,332.36 283.07,331.62 283.74,331.91 284.41,332.23 285.08,332.02 285.75,331.60 286.42,332.24 287.10,331.94 287.77,332.34 288.44,332.32 289.11,331.80 289.78,331.86 290.45,332.35 291.12,332.47 291.79,332.47 292.46,332.01 293.13,332.13 293.81,332.34 294.48,332.42 295.15,332.06 295.82,331.99 296.49,331.95 297.16,332.22 297.83,332.63 298.50,332.81 299.17,332.26 299.84,332.62 300.52,332.39 301.19,333.05 301.86,332.43 302.53,332.92 303.20,332.52 303.87,332.56 304.54,332.95 305.21,333.44 305.88,332.69 306.55,333.14 307.23,332.84 307.90,333.45 308.57,333.58 309.24,333.06 309.91,333.47 310.58,333.65 311.25,333.46 311.92,333.25 312.59,333.79 313.26,333.31 313.94,333.38 314.61,333.31 315.28,333.66 315.95,333.12 316.62,333.02 317.29,332.97 317.96,333.46 318.63,333.10 319.30,333.40 319.97,333.06 320.65,333.68 321.32,332.94 321.99,332.86 322.66,333.27" fill="none" stroke="#ff0000" stroke-width="1.55" stroke-linejoin="round" stroke-linecap="round"/>
<polyline points="216.64,362.58 217.31,355.77 217.98,344.43 218.65,343.07 219.33,341.71 220.00,339.89 220.67,338.08 221.34,330.51 222.01,328.74 222.68,328.42 223.35,328.10 224.02,327.75 224.69,327.40 225.36,327.06 226.04,326.91 226.71,326.34 227.38,326.38 228.05,326.17 228.72,325.97 229.39,325.80 230.06,325.48 230.73,325.66 231.40,325.52 232.07,325.07 232.75,325.03 233.42,324.87 234.09,324.43 234.76,324.32 235.43,324.23 236.10,324.05 236.77,324.16 237.44,323.92 238.11,324.02 238.78,324.31 239.46,324.33 240.13,324.60 240.80,325.01 241.47,325.50 242.14,325.96 242.81,325.95 243.48,326.14 244.15,326.07 244.82,326.06 245.49,326.41 246.17,326.34 246.84,326.37 247.51,326.67 248.18,326.52 248.85,326.57 249.52,326.86 250.19,326.94 250.86,326.88 251.53,327.09 252.20,327.23 252.88,327.12 253.55,327.27 254.22,327.52 254.89,327.64 255.56,327.70 256.23,327.76 256.90,327.65 257.57,327.80 258.24,327.85 258.91,327.98 259.59,328.06 260.26,328.44 260.93,328.36 261.60,328.29 262.27,328.39 262.94,328.73 263.61,328.76 264.28,328.77 264.95,328.96 265.62,328.99 266.30,329.25 266.97,329.21 267.64,329.27 268.31,329.54 268.98,329.59 269.65,329.38 270.32,329.54 270.99,329.57 271.66,329.77 272.33,329.80 273.00,329.86 273.68,329.95 274.35,330.35 275.02,330.22 275.69,330.45 276.36,330.39 277.03,330.63 277.70,330.62 278.37,330.57 279.04,330.77 279.71,331.00 280.39,330.99 281.06,331.11 281.73,331.02 282.40,331.35 283.07,331.36 283.74,331.26 284.41,331.48 285.08,331.33 285.75,331.22 286.42,331.40 287.10,331.51 287.77,331.46 288.44,331.46 289.11,331.63 289.78,331.66 290.45,331.68 291.12,331.64 291.79,331.62 292.46,331.69 293.13,331.73 293.81,331.81 294.48,331.66 295.15,331.58 295.82,331.69 296.49,331.74 297.16,331.76 297.83,331.97 298.50,331.83 299.17,331.97 299.84,331.98 300.52,332.00 301.19,332.10 301.86,332.20 302.53,332.27 303.20,332.33 303.87,332.26 304.54,332.36 305.21,332.33 305.88,332.58 306.55,332.50 307.23,332.37 307.90,332.64 308.57,332.57 309.24,332.64 309.91,332.72 310.58,332.47 311.25,332.73 311.92,332.57 312.59,332.80 313.26,332.84 313.94,332.56 314.61,332.73 315.28,332.87 315.95,332.76 316.62,332.75 317.29,332.66 317.96,332.89 318.63,332.86 319.30,332.60 319.97,332.69 320.65,332.91 321.32,332.86 321.99,332.86 322.66,332.75" fill="none" stroke="#0000ff" stroke-width="1.55" stroke-linejoin="round" stroke-linecap="round"/>
<path d="M215.30 304.50 H324.00" stroke="#2a2a2a" stroke-width="1.2" fill="none"/>
<path d="M324.00 304.10 V377.70" stroke="#262626" stroke-width="1.35" fill="none"/>
<path d="M215.30 304.10 V377.10 H324.60" stroke="#0a0a0a" stroke-width="1.25" fill="none" stroke-linejoin="miter"/>
<path d="M212.20 377.10 H215.30" stroke="#000" stroke-width="1.05" fill="none"/>
<text x="211.60" y="380.67" font-size="8.3" text-anchor="end" fill="#000">30</text>
<path d="M212.20 368.03 H215.30" stroke="#000" stroke-width="1.05" fill="none"/>
<text x="211.60" y="371.60" font-size="8.3" text-anchor="end" fill="#000">40</text>
<path d="M212.20 358.95 H215.30" stroke="#000" stroke-width="1.05" fill="none"/>
<text x="211.60" y="362.52" font-size="8.3" text-anchor="end" fill="#000">50</text>
<path d="M212.20 349.88 H215.30" stroke="#000" stroke-width="1.05" fill="none"/>
<text x="211.60" y="353.45" font-size="8.3" text-anchor="end" fill="#000">60</text>
<path d="M212.20 340.80 H215.30" stroke="#000" stroke-width="1.05" fill="none"/>
<text x="211.60" y="344.37" font-size="8.3" text-anchor="end" fill="#000">70</text>
<path d="M212.20 331.73 H215.30" stroke="#000" stroke-width="1.05" fill="none"/>
<text x="211.60" y="335.30" font-size="8.3" text-anchor="end" fill="#000">80</text>
<path d="M212.20 322.65 H215.30" stroke="#000" stroke-width="1.05" fill="none"/>
<text x="211.60" y="326.22" font-size="8.3" text-anchor="end" fill="#000">90</text>
<path d="M212.20 313.57 H215.30" stroke="#000" stroke-width="1.05" fill="none"/>
<text x="211.60" y="317.15" font-size="8.3" text-anchor="end" fill="#000">100</text>
<path d="M212.20 304.50 H215.30" stroke="#000" stroke-width="1.05" fill="none"/>
<text x="211.60" y="308.07" font-size="8.3" text-anchor="end" fill="#000">110</text>
<path d="M324.00 377.10 H327.90" stroke="#111" stroke-width="1.05" fill="none"/>
<text x="329.90" y="380.63" font-size="8.450000000000001" text-anchor="start" fill="#000">0.0</text>
<path d="M324.00 352.90 H327.90" stroke="#111" stroke-width="1.05" fill="none"/>
<text x="329.90" y="356.43" font-size="8.450000000000001" text-anchor="start" fill="#000">0.5</text>
<path d="M324.00 328.70 H327.90" stroke="#111" stroke-width="1.05" fill="none"/>
<text x="329.90" y="332.23" font-size="8.450000000000001" text-anchor="start" fill="#000">1.0</text>
<path d="M324.00 304.50 H327.90" stroke="#111" stroke-width="1.05" fill="none"/>
<text x="329.90" y="308.03" font-size="8.450000000000001" text-anchor="start" fill="#000">1.5</text>
<path d="M215.30 377.10 V380.50" stroke="#000" stroke-width="1.05" fill="none"/>
<text x="215.30" y="389.83" font-size="8.450000000000001" text-anchor="middle" fill="#000">0</text>
<path d="M242.14 377.10 V380.50" stroke="#000" stroke-width="1.05" fill="none"/>
<text x="242.14" y="389.83" font-size="8.450000000000001" text-anchor="middle" fill="#000">20</text>
<path d="M268.98 377.10 V380.50" stroke="#000" stroke-width="1.05" fill="none"/>
<text x="268.98" y="389.83" font-size="8.450000000000001" text-anchor="middle" fill="#000">40</text>
<path d="M295.82 377.10 V380.50" stroke="#000" stroke-width="1.05" fill="none"/>
<text x="295.82" y="389.83" font-size="8.450000000000001" text-anchor="middle" fill="#000">60</text>
<path d="M322.66 377.10 V380.50" stroke="#000" stroke-width="1.05" fill="none"/>
<text x="322.66" y="389.83" font-size="8.450000000000001" text-anchor="middle" fill="#000">80</text>
<text x="269.25" y="291.82" font-size="8.15" text-anchor="middle" fill="#000">Naïve Bayes</text>
<text x="269.25" y="301.42" font-size="8.15" text-anchor="middle" fill="#000">Accuracy: 87.9%</text>
<text x="269.65" y="401.52" font-size="8.15" text-anchor="middle" fill="#000">Number of features</text>
<text x="194.72" y="341.30" font-size="8.15" text-anchor="middle" fill="#000" transform="rotate(-90 194.72 341.30)">Accuracy (%)</text>
<text x="344.68" y="341.30" font-size="8.15" text-anchor="middle" fill="#000" transform="rotate(90 344.68 341.30)">MRMR score (a.u.)</text>
<polygon points="382.16,377.10 382.16,326.63 383.04,327.61 383.73,331.65 385.09,344.42 386.45,345.53 387.81,347.62 389.18,353.88 390.54,357.08 391.90,361.16 393.27,363.33 394.63,363.79 395.99,363.79 397.36,364.75 398.72,365.70 400.08,366.54 401.44,367.30 402.81,367.68 404.17,367.99 405.53,368.56 406.90,368.98 408.26,369.97 409.62,370.46 410.99,370.73 412.35,371.15 413.71,371.15 415.07,371.38 416.44,371.38 417.80,371.88 419.16,371.88 420.53,371.95 421.89,372.03 423.25,372.18 424.61,372.30 425.98,372.37 427.34,372.68 428.70,372.79 430.07,372.94 431.43,373.02 432.79,373.02 434.16,373.10 435.52,373.10 436.88,373.10 438.24,373.52 439.61,373.52 440.97,373.52 442.33,373.52 443.70,373.63 445.06,373.78 446.42,373.94 447.79,374.01 449.15,374.09 450.51,374.20 451.87,374.20 453.24,374.28 454.60,374.43 455.96,374.09 457.33,374.51 458.69,374.58 460.05,374.66 461.41,374.77 462.78,374.93 464.14,375.04 465.50,375.16 466.87,375.19 468.23,375.19 469.59,375.27 470.96,375.35 472.32,375.35 473.68,375.42 475.04,375.42 476.41,375.42 477.77,375.42 479.13,375.77 480.50,375.84 481.86,376.07 483.22,376.07 484.59,376.07 485.95,376.07 487.31,376.15 488.67,376.15 490.04,376.53 491.40,376.53 491.40,377.10" fill="#c2c2c2"/>
<polyline points="382.36,342.19 383.04,346.78 383.73,351.38 384.41,340.35 385.09,332.08 385.77,330.24 386.45,328.41 387.13,327.03 387.81,325.65 388.50,325.42 389.18,325.19 389.86,324.39 390.54,323.49 391.22,322.83 391.90,322.42 392.59,321.76 393.27,321.29 393.95,320.82 394.63,320.62 395.31,319.76 395.99,319.26 396.67,318.49 397.36,318.64 398.04,317.50 398.72,317.84 399.40,316.68 400.08,316.38 400.76,316.17 401.44,315.44 402.13,315.50 402.81,315.34 403.49,314.84 404.17,314.58 404.85,314.65 405.53,314.69 406.21,314.45 406.90,314.27 407.58,313.86 408.26,314.08 408.94,313.99 409.62,313.84 410.30,314.00 410.99,314.05 411.67,313.63 412.35,313.57 413.03,313.89 413.71,313.94 414.39,314.18 415.07,314.07 415.76,314.22 416.44,313.82 417.12,313.82 417.80,314.27 418.48,313.50 419.16,314.05 419.84,313.57 420.53,313.58 421.21,313.47 421.89,314.16 422.57,313.96 423.25,313.51 423.93,314.34 424.61,314.31 425.30,313.83 425.98,313.89 426.66,313.50 427.34,313.64 428.02,313.85 428.70,313.43 429.39,313.87 430.07,313.87 430.75,313.72 431.43,313.99 432.11,314.02 432.79,313.80 433.47,314.03 434.16,313.48 434.84,313.73 435.52,313.87 436.20,314.28 436.88,314.04 437.56,314.04 438.24,313.91 438.93,313.91 439.61,313.65 440.29,313.59 440.97,314.05 441.65,314.11 442.33,313.96 443.01,313.64 443.70,314.25 444.38,314.10 445.06,313.86 445.74,314.47 446.42,314.35 447.10,313.76 447.79,313.92 448.47,314.23 449.15,314.62 449.83,313.91 450.51,314.12 451.19,314.02 451.87,313.88 452.56,313.99 453.24,314.44 453.92,314.70 454.60,314.60 455.28,314.41 455.96,314.44 456.64,314.75 457.33,314.78 458.01,314.39 458.69,314.43 459.37,314.68 460.05,314.12 460.73,314.47 461.41,315.03 462.10,314.72 462.78,314.39 463.46,314.85 464.14,314.52 464.82,315.18 465.50,314.92 466.19,314.45 466.87,314.71 467.55,314.65 468.23,315.11 468.91,314.85 469.59,314.82 470.27,315.11 470.96,314.78 471.64,314.91 472.32,314.50 473.00,314.91 473.68,315.08 474.36,315.37 475.04,315.36 475.73,314.82 476.41,315.45 477.09,315.48 477.77,315.45 478.45,315.16 479.13,314.92 479.81,315.14 480.50,315.00 481.18,315.71 481.86,315.79 482.54,315.13 483.22,315.57 483.90,315.24 484.59,315.60 485.27,315.81 485.95,315.75 486.63,315.93 487.31,315.23 487.99,315.56 488.67,315.80 489.36,315.74 490.04,315.83" fill="none" stroke="#ff0000" stroke-width="1.55" stroke-linejoin="round" stroke-linecap="round"/>
<polyline points="382.36,342.19 383.04,346.78 383.73,351.38 384.41,340.35 385.09,331.16 385.77,329.33 386.45,327.49 387.13,326.11 387.81,324.73 388.50,324.50 389.18,324.27 389.86,323.94 390.54,323.25 391.22,322.41 391.90,321.39 392.59,321.19 393.27,320.79 393.95,320.55 394.63,320.26 395.31,319.44 395.99,318.89 396.67,318.47 397.36,317.73 398.04,317.41 398.72,317.21 399.40,316.78 400.08,316.34 400.76,316.17 401.44,315.74 402.13,315.64 402.81,315.30 403.49,315.13 404.17,315.18 404.85,315.08 405.53,314.84 406.21,314.87 406.90,314.71 407.58,314.78 408.26,314.72 408.94,314.66 409.62,314.71 410.30,314.50 410.99,314.68 411.67,314.61 412.35,314.73 413.03,314.62 413.71,314.66 414.39,314.65 415.07,314.74 415.76,314.73 416.44,314.54 417.12,314.67 417.80,314.70 418.48,314.71 419.16,314.68 419.84,314.70 420.53,314.75 421.21,314.58 421.89,314.67 422.57,314.72 423.25,314.57 423.93,314.74 424.61,314.69 425.30,314.53 425.98,314.73 426.66,314.64 427.34,314.53 428.02,314.54 428.70,314.72 429.39,314.67 430.07,314.56 430.75,314.66 431.43,314.50 432.11,314.71 432.79,314.50 433.47,314.62 434.16,314.70 434.84,314.64 435.52,314.73 436.20,314.58 436.88,314.72 437.56,314.56 438.24,314.66 438.93,314.74 439.61,314.79 440.29,314.70 440.97,314.83 441.65,314.66 442.33,314.88 443.01,314.79 443.70,314.80 444.38,314.89 445.06,314.76 445.74,314.89 446.42,314.83 447.10,314.87 447.79,314.95 448.47,314.95 449.15,315.05 449.83,315.04 450.51,314.87 451.19,315.03 451.87,314.95 452.56,315.12 453.24,315.01 453.92,315.08 454.60,315.05 455.28,315.13 455.96,315.20 456.64,315.17 457.33,315.22 458.01,315.28 458.69,315.15 459.37,315.30 460.05,315.29 460.73,315.19 461.41,315.25 462.10,315.25 462.78,315.29 463.46,315.52 464.14,315.51 464.82,315.61 465.50,315.46 466.19,315.50 466.87,315.62 467.55,315.63 468.23,315.59 468.91,315.61 469.59,315.77 470.27,315.63 470.96,315.80 471.64,315.75 472.32,315.91 473.00,315.96 473.68,315.77 474.36,315.85 475.04,315.88 475.73,316.10 476.41,316.13 477.09,316.12 477.77,316.13 478.45,316.13 479.13,316.13 479.81,316.24 480.50,316.19 481.18,316.13 481.86,316.28 482.54,316.12 483.22,316.21 483.90,316.20 484.59,316.35 485.27,316.32 485.95,316.27 486.63,316.39 487.31,316.51 487.99,316.30 488.67,316.34 489.36,316.50 490.04,316.59" fill="none" stroke="#0000ff" stroke-width="1.55" stroke-linejoin="round" stroke-linecap="round"/>
<path d="M381.00 303.60 H491.40" stroke="#2a2a2a" stroke-width="1.2" fill="none"/>
<path d="M491.40 303.20 V377.70" stroke="#262626" stroke-width="1.35" fill="none"/>
<path d="M381.00 303.20 V377.10 H492.00" stroke="#0a0a0a" stroke-width="1.25" fill="none" stroke-linejoin="miter"/>
<path d="M377.90 377.10 H381.00" stroke="#000" stroke-width="1.05" fill="none"/>
<text x="377.30" y="380.67" font-size="8.3" text-anchor="end" fill="#000">30</text>
<path d="M377.90 367.91 H381.00" stroke="#000" stroke-width="1.05" fill="none"/>
<text x="377.30" y="371.48" font-size="8.3" text-anchor="end" fill="#000">40</text>
<path d="M377.90 358.73 H381.00" stroke="#000" stroke-width="1.05" fill="none"/>
<text x="377.30" y="362.30" font-size="8.3" text-anchor="end" fill="#000">50</text>
<path d="M377.90 349.54 H381.00" stroke="#000" stroke-width="1.05" fill="none"/>
<text x="377.30" y="353.11" font-size="8.3" text-anchor="end" fill="#000">60</text>
<path d="M377.90 340.35 H381.00" stroke="#000" stroke-width="1.05" fill="none"/>
<text x="377.30" y="343.92" font-size="8.3" text-anchor="end" fill="#000">70</text>
<path d="M377.90 331.16 H381.00" stroke="#000" stroke-width="1.05" fill="none"/>
<text x="377.30" y="334.73" font-size="8.3" text-anchor="end" fill="#000">80</text>
<path d="M377.90 321.98 H381.00" stroke="#000" stroke-width="1.05" fill="none"/>
<text x="377.30" y="325.55" font-size="8.3" text-anchor="end" fill="#000">90</text>
<path d="M377.90 312.79 H381.00" stroke="#000" stroke-width="1.05" fill="none"/>
<text x="377.30" y="316.36" font-size="8.3" text-anchor="end" fill="#000">100</text>
<path d="M377.90 303.60 H381.00" stroke="#000" stroke-width="1.05" fill="none"/>
<text x="377.30" y="307.17" font-size="8.3" text-anchor="end" fill="#000">110</text>
<path d="M491.40 377.10 H495.30" stroke="#111" stroke-width="1.05" fill="none"/>
<text x="497.30" y="380.63" font-size="8.450000000000001" text-anchor="start" fill="#000">0.0</text>
<path d="M491.40 352.60 H495.30" stroke="#111" stroke-width="1.05" fill="none"/>
<text x="497.30" y="356.13" font-size="8.450000000000001" text-anchor="start" fill="#000">0.5</text>
<path d="M491.40 328.10 H495.30" stroke="#111" stroke-width="1.05" fill="none"/>
<text x="497.30" y="331.63" font-size="8.450000000000001" text-anchor="start" fill="#000">1.0</text>
<path d="M491.40 303.60 H495.30" stroke="#111" stroke-width="1.05" fill="none"/>
<text x="497.30" y="307.13" font-size="8.450000000000001" text-anchor="start" fill="#000">1.5</text>
<path d="M381.00 377.10 V380.50" stroke="#000" stroke-width="1.05" fill="none"/>
<text x="381.00" y="389.83" font-size="8.450000000000001" text-anchor="middle" fill="#000">0</text>
<path d="M408.26 377.10 V380.50" stroke="#000" stroke-width="1.05" fill="none"/>
<text x="408.26" y="389.83" font-size="8.450000000000001" text-anchor="middle" fill="#000">20</text>
<path d="M435.52 377.10 V380.50" stroke="#000" stroke-width="1.05" fill="none"/>
<text x="435.52" y="389.83" font-size="8.450000000000001" text-anchor="middle" fill="#000">40</text>
<path d="M462.78 377.10 V380.50" stroke="#000" stroke-width="1.05" fill="none"/>
<text x="462.78" y="389.83" font-size="8.450000000000001" text-anchor="middle" fill="#000">60</text>
<path d="M490.04 377.10 V380.50" stroke="#000" stroke-width="1.05" fill="none"/>
<text x="490.04" y="389.83" font-size="8.450000000000001" text-anchor="middle" fill="#000">80</text>
<text x="435.80" y="291.22" font-size="8.15" text-anchor="middle" fill="#000">Subspace KNN</text>
<text x="435.80" y="301.72" font-size="8.15" text-anchor="middle" fill="#000">Accuracy: 98.4%</text>
<text x="436.20" y="401.52" font-size="8.15" text-anchor="middle" fill="#000">Number of features</text>
<text x="362.12" y="340.85" font-size="8.15" text-anchor="middle" fill="#000" transform="rotate(-90 362.12 340.85)">Accuracy (%)</text>
<text x="511.18" y="340.85" font-size="8.15" text-anchor="middle" fill="#000" transform="rotate(90 511.18 340.85)">MRMR score (a.u.)</text>
<polygon points="548.95,376.20 548.95,326.28 549.82,327.25 550.50,331.24 551.84,343.88 553.19,344.97 554.54,347.04 555.89,353.23 557.24,356.40 558.59,360.43 559.93,362.58 561.28,363.04 562.63,363.04 563.98,363.98 565.33,364.92 566.67,365.75 568.02,366.51 569.37,366.88 570.72,367.19 572.07,367.75 573.41,368.17 574.76,369.15 576.11,369.64 577.46,369.90 578.81,370.32 580.16,370.32 581.50,370.54 582.85,370.54 584.20,371.03 585.55,371.03 586.90,371.11 588.24,371.18 589.59,371.33 590.94,371.45 592.29,371.52 593.64,371.82 594.99,371.94 596.33,372.09 597.68,372.16 599.03,372.16 600.38,372.24 601.73,372.24 603.07,372.24 604.42,372.65 605.77,372.65 607.12,372.65 608.47,372.65 609.81,372.77 611.16,372.92 612.51,373.07 613.86,373.14 615.21,373.22 616.56,373.33 617.90,373.33 619.25,373.41 620.60,373.56 621.95,373.22 623.30,373.64 624.64,373.71 625.99,373.79 627.34,373.90 628.69,374.05 630.04,374.16 631.39,374.28 632.73,374.31 634.08,374.31 635.43,374.39 636.78,374.47 638.13,374.47 639.47,374.54 640.82,374.54 642.17,374.54 643.52,374.54 644.87,374.88 646.21,374.96 647.56,375.18 648.91,375.18 650.26,375.18 651.61,375.18 652.96,375.26 654.30,375.26 655.65,375.63 657.00,375.63 657.00,376.20" fill="#c2c2c2"/>
<polyline points="549.15,340.76 549.82,339.85 550.50,330.76 551.17,326.67 551.84,322.58 552.52,320.77 553.19,318.95 553.87,318.04 554.54,317.13 555.21,316.68 555.89,316.22 556.56,315.77 557.24,315.70 557.91,315.83 558.59,315.48 559.26,315.29 559.93,314.58 560.61,314.68 561.28,313.96 561.96,314.10 562.63,314.56 563.30,314.21 563.98,314.44 564.65,314.25 565.33,314.23 566.00,314.62 566.67,314.77 567.35,314.27 568.02,314.64 568.70,314.31 569.37,314.46 570.04,314.42 570.72,314.36 571.39,314.49 572.07,314.60 572.74,314.85 573.41,314.43 574.09,314.60 574.76,314.54 575.44,314.28 576.11,314.78 576.79,314.37 577.46,314.83 578.13,314.41 578.81,314.34 579.48,314.68 580.16,314.49 580.83,314.22 581.50,314.43 582.18,314.49 582.85,314.67 583.53,314.79 584.20,314.59 584.87,314.56 585.55,314.69 586.22,314.61 586.90,314.72 587.57,314.35 588.24,314.37 588.92,314.65 589.59,314.64 590.27,314.46 590.94,314.50 591.61,314.19 592.29,314.56 592.96,314.59 593.64,314.21 594.31,314.68 594.99,314.41 595.66,314.55 596.33,314.24 597.01,314.41 597.68,314.27 598.36,314.64 599.03,314.32 599.70,314.36 600.38,314.44 601.05,314.25 601.73,314.20 602.40,314.65 603.07,314.54 603.75,314.49 604.42,314.58 605.10,314.67 605.77,314.53 606.44,314.58 607.12,314.26 607.79,314.41 608.47,314.62 609.14,314.49 609.81,314.39 610.49,314.45 611.16,314.57 611.84,314.63 612.51,314.67 613.19,314.04 613.86,314.19 614.53,314.61 615.21,314.20 615.88,314.03 616.56,314.29 617.23,314.58 617.90,314.34 618.58,314.37 619.25,314.52 619.93,314.29 620.60,314.63 621.27,314.04 621.95,314.22 622.62,314.22 623.30,314.02 623.97,314.20 624.64,314.45 625.32,314.45 625.99,314.52 626.67,314.58 627.34,314.10 628.01,314.06 628.69,314.40 629.36,314.47 630.04,314.18 630.71,314.04 631.39,313.99 632.06,314.47 632.73,314.07 633.41,314.04 634.08,314.09 634.76,314.35 635.43,314.44 636.10,314.03 636.78,314.34 637.45,314.31 638.13,314.19 638.80,314.30 639.47,314.01 640.15,314.38 640.82,314.50 641.50,314.16 642.17,314.12 642.84,314.00 643.52,314.06 644.19,313.93 644.87,313.91 645.54,314.19 646.21,314.18 646.89,314.40 647.56,314.30 648.24,314.12 648.91,314.43 649.59,314.04 650.26,314.37 650.93,314.19 651.61,313.85 652.28,314.41 652.96,314.44 653.63,314.18 654.30,314.34 654.98,313.99 655.65,314.45" fill="none" stroke="#ff0000" stroke-width="1.55" stroke-linejoin="round" stroke-linecap="round"/>
<polyline points="549.15,340.76 549.82,339.85 550.50,330.76 551.17,327.13 551.84,323.49 552.52,321.68 553.19,319.86 553.87,318.95 554.54,318.04 555.21,317.59 555.89,317.13 556.56,316.77 557.24,316.48 557.91,316.19 558.59,315.96 559.26,315.65 559.93,315.24 560.61,314.92 561.28,314.60 561.96,314.60 562.63,314.56 563.30,314.50 563.98,314.45 564.65,314.42 565.33,314.54 566.00,314.50 566.67,314.45 567.35,314.41 568.02,314.43 568.70,314.46 569.37,314.48 570.04,314.43 570.72,314.40 571.39,314.31 572.07,314.32 572.74,314.32 573.41,314.30 574.09,314.30 574.76,314.36 575.44,314.33 576.11,314.46 576.79,314.35 577.46,314.36 578.13,314.41 578.81,314.36 579.48,314.29 580.16,314.37 580.83,314.34 581.50,314.40 582.18,314.39 582.85,314.29 583.53,314.44 584.20,314.41 584.87,314.32 585.55,314.36 586.22,314.42 586.90,314.32 587.57,314.37 588.24,314.33 588.92,314.36 589.59,314.33 590.27,314.32 590.94,314.35 591.61,314.40 592.29,314.39 592.96,314.26 593.64,314.32 594.31,314.39 594.99,314.26 595.66,314.36 596.33,314.39 597.01,314.31 597.68,314.36 598.36,314.31 599.03,314.30 599.70,314.36 600.38,314.29 601.05,314.37 601.73,314.30 602.40,314.28 603.07,314.37 603.75,314.31 604.42,314.37 605.10,314.30 605.77,314.22 606.44,314.28 607.12,314.24 607.79,314.23 608.47,314.35 609.14,314.19 609.81,314.23 610.49,314.35 611.16,314.21 611.84,314.29 612.51,314.33 613.19,314.18 613.86,314.25 614.53,314.21 615.21,314.32 615.88,314.21 616.56,314.33 617.23,314.30 617.90,314.27 618.58,314.34 619.25,314.23 619.93,314.30 620.60,314.28 621.27,314.20 621.95,314.25 622.62,314.16 623.30,314.21 623.97,314.16 624.64,314.22 625.32,314.15 625.99,314.16 626.67,314.28 627.34,314.18 628.01,314.25 628.69,314.17 629.36,314.18 630.04,314.15 630.71,314.28 631.39,314.23 632.06,314.16 632.73,314.12 633.41,314.16 634.08,314.28 634.76,314.18 635.43,314.27 636.10,314.18 636.78,314.14 637.45,314.26 638.13,314.11 638.80,314.15 639.47,314.23 640.15,314.24 640.82,314.19 641.50,314.11 642.17,314.16 642.84,314.24 643.52,314.26 644.19,314.24 644.87,314.11 645.54,314.22 646.21,314.15 646.89,314.20 647.56,314.12 648.24,314.18 648.91,314.22 649.59,314.08 650.26,314.14 650.93,314.11 651.61,314.09 652.28,314.06 652.96,314.23 653.63,314.17 654.30,314.20 654.98,314.13 655.65,314.06" fill="none" stroke="#0000ff" stroke-width="1.55" stroke-linejoin="round" stroke-linecap="round"/>
<path d="M547.80 303.50 H657.00" stroke="#2a2a2a" stroke-width="1.2" fill="none"/>
<path d="M657.00 303.10 V376.80" stroke="#262626" stroke-width="1.35" fill="none"/>
<path d="M547.80 303.10 V376.20 H657.60" stroke="#0a0a0a" stroke-width="1.25" fill="none" stroke-linejoin="miter"/>
<path d="M544.70 376.20 H547.80" stroke="#000" stroke-width="1.05" fill="none"/>
<text x="544.10" y="379.77" font-size="8.3" text-anchor="end" fill="#000">30</text>
<path d="M544.70 367.11 H547.80" stroke="#000" stroke-width="1.05" fill="none"/>
<text x="544.10" y="370.68" font-size="8.3" text-anchor="end" fill="#000">40</text>
<path d="M544.70 358.02 H547.80" stroke="#000" stroke-width="1.05" fill="none"/>
<text x="544.10" y="361.60" font-size="8.3" text-anchor="end" fill="#000">50</text>
<path d="M544.70 348.94 H547.80" stroke="#000" stroke-width="1.05" fill="none"/>
<text x="544.10" y="352.51" font-size="8.3" text-anchor="end" fill="#000">60</text>
<path d="M544.70 339.85 H547.80" stroke="#000" stroke-width="1.05" fill="none"/>
<text x="544.10" y="343.42" font-size="8.3" text-anchor="end" fill="#000">70</text>
<path d="M544.70 330.76 H547.80" stroke="#000" stroke-width="1.05" fill="none"/>
<text x="544.10" y="334.33" font-size="8.3" text-anchor="end" fill="#000">80</text>
<path d="M544.70 321.68 H547.80" stroke="#000" stroke-width="1.05" fill="none"/>
<text x="544.10" y="325.25" font-size="8.3" text-anchor="end" fill="#000">90</text>
<path d="M544.70 312.59 H547.80" stroke="#000" stroke-width="1.05" fill="none"/>
<text x="544.10" y="316.16" font-size="8.3" text-anchor="end" fill="#000">100</text>
<path d="M544.70 303.50 H547.80" stroke="#000" stroke-width="1.05" fill="none"/>
<text x="544.10" y="307.07" font-size="8.3" text-anchor="end" fill="#000">110</text>
<path d="M657.00 376.20 H660.90" stroke="#111" stroke-width="1.05" fill="none"/>
<text x="662.90" y="379.73" font-size="8.450000000000001" text-anchor="start" fill="#000">0.0</text>
<path d="M657.00 351.97 H660.90" stroke="#111" stroke-width="1.05" fill="none"/>
<text x="662.90" y="355.49" font-size="8.450000000000001" text-anchor="start" fill="#000">0.5</text>
<path d="M657.00 327.73 H660.90" stroke="#111" stroke-width="1.05" fill="none"/>
<text x="662.90" y="331.26" font-size="8.450000000000001" text-anchor="start" fill="#000">1.0</text>
<path d="M657.00 303.50 H660.90" stroke="#111" stroke-width="1.05" fill="none"/>
<text x="662.90" y="307.03" font-size="8.450000000000001" text-anchor="start" fill="#000">1.5</text>
<path d="M547.80 376.20 V379.60" stroke="#000" stroke-width="1.05" fill="none"/>
<text x="547.80" y="388.93" font-size="8.450000000000001" text-anchor="middle" fill="#000">0</text>
<path d="M574.76 376.20 V379.60" stroke="#000" stroke-width="1.05" fill="none"/>
<text x="574.76" y="388.93" font-size="8.450000000000001" text-anchor="middle" fill="#000">20</text>
<path d="M601.73 376.20 V379.60" stroke="#000" stroke-width="1.05" fill="none"/>
<text x="601.73" y="388.93" font-size="8.450000000000001" text-anchor="middle" fill="#000">40</text>
<path d="M628.69 376.20 V379.60" stroke="#000" stroke-width="1.05" fill="none"/>
<text x="628.69" y="388.93" font-size="8.450000000000001" text-anchor="middle" fill="#000">60</text>
<path d="M655.65 376.20 V379.60" stroke="#000" stroke-width="1.05" fill="none"/>
<text x="655.65" y="388.93" font-size="8.450000000000001" text-anchor="middle" fill="#000">80</text>
<text x="602.00" y="291.12" font-size="8.15" text-anchor="middle" fill="#000">Bagged Trees</text>
<text x="602.00" y="301.92" font-size="8.15" text-anchor="middle" fill="#000">Accuracy: 98.0%</text>
<text x="602.40" y="400.62" font-size="8.15" text-anchor="middle" fill="#000">Number of features</text>
<text x="528.52" y="340.35" font-size="8.15" text-anchor="middle" fill="#000" transform="rotate(-90 528.52 340.35)">Accuracy (%)</text>
<text x="676.28" y="340.35" font-size="8.15" text-anchor="middle" fill="#000" transform="rotate(90 676.28 340.35)">MRMR score (a.u.)</text>
<path d="M371.5 417.4 H389.6" stroke="#0000ff" stroke-width="1.4"/>
<text x="393.40" y="420.16" font-size="8" text-anchor="start" fill="#000">Cross-validation</text>
<path d="M461.2 417.4 H479.6" stroke="#ff0000" stroke-width="1.4"/>
<text x="483.00" y="420.16" font-size="8" text-anchor="start" fill="#000">Test</text>
<text x="116.30" y="424.30" font-size="9" text-anchor="start" fill="#000">c</text>
<polyline points="162.70,487.04 188.12,491.94 213.54,518.05 238.96,485.41 264.38,501.73 289.80,471.54" fill="none" stroke="#6bbfc8" stroke-width="1.5" stroke-linejoin="round"/>
<circle cx="162.70" cy="487.04" r="2.55" fill="#6bbfc8"/>
<circle cx="188.12" cy="491.94" r="2.55" fill="#6bbfc8"/>
<circle cx="213.54" cy="518.05" r="2.55" fill="#6bbfc8"/>
<circle cx="238.96" cy="485.41" r="2.55" fill="#6bbfc8"/>
<circle cx="264.38" cy="501.73" r="2.55" fill="#6bbfc8"/>
<circle cx="289.80" cy="471.54" r="2.55" fill="#6bbfc8"/>
<polyline points="162.70,483.78 188.12,475.62 213.54,491.94 238.96,482.14 264.38,473.17 289.80,471.54" fill="none" stroke="#12b5f5" stroke-width="1.5" stroke-linejoin="round"/>
<circle cx="162.70" cy="483.78" r="2.55" fill="#12b5f5"/>
<circle cx="188.12" cy="475.62" r="2.55" fill="#12b5f5"/>
<circle cx="213.54" cy="491.94" r="2.55" fill="#12b5f5"/>
<circle cx="238.96" cy="482.14" r="2.55" fill="#12b5f5"/>
<circle cx="264.38" cy="473.17" r="2.55" fill="#12b5f5"/>
<circle cx="289.80" cy="471.54" r="2.55" fill="#12b5f5"/>
<polyline points="162.70,483.78 188.12,490.30 213.54,521.31 238.96,485.41 264.38,488.67 289.80,484.92" fill="none" stroke="#f09a7a" stroke-width="1.5" stroke-linejoin="round"/>
<circle cx="162.70" cy="483.78" r="2.55" fill="#f09a7a"/>
<circle cx="188.12" cy="490.30" r="2.55" fill="#f09a7a"/>
<circle cx="213.54" cy="521.31" r="2.55" fill="#f09a7a"/>
<circle cx="238.96" cy="485.41" r="2.55" fill="#f09a7a"/>
<circle cx="264.38" cy="488.67" r="2.55" fill="#f09a7a"/>
<circle cx="289.80" cy="484.92" r="2.55" fill="#f09a7a"/>
<polyline points="162.70,472.35 188.12,473.17 213.54,480.51 238.96,472.35 264.38,475.62 289.80,470.72" fill="none" stroke="#a07fd6" stroke-width="1.5" stroke-linejoin="round"/>
<circle cx="162.70" cy="472.35" r="2.55" fill="#a07fd6"/>
<circle cx="188.12" cy="473.17" r="2.55" fill="#a07fd6"/>
<circle cx="213.54" cy="480.51" r="2.55" fill="#a07fd6"/>
<circle cx="238.96" cy="472.35" r="2.55" fill="#a07fd6"/>
<circle cx="264.38" cy="475.62" r="2.55" fill="#a07fd6"/>
<circle cx="289.80" cy="470.72" r="2.55" fill="#a07fd6"/>
<polyline points="162.70,473.98 188.12,475.62 213.54,475.62 238.96,475.62 264.38,472.35 289.80,470.72" fill="none" stroke="#f25a0f" stroke-width="1.5" stroke-linejoin="round"/>
<circle cx="162.70" cy="473.98" r="2.55" fill="#f25a0f"/>
<circle cx="188.12" cy="475.62" r="2.55" fill="#f25a0f"/>
<circle cx="213.54" cy="475.62" r="2.55" fill="#f25a0f"/>
<circle cx="238.96" cy="475.62" r="2.55" fill="#f25a0f"/>
<circle cx="264.38" cy="472.35" r="2.55" fill="#f25a0f"/>
<circle cx="289.80" cy="470.72" r="2.55" fill="#f25a0f"/>
<polyline points="162.70,475.62 188.12,470.72 213.54,477.25 238.96,482.14 264.38,473.98 289.80,470.72" fill="none" stroke="#f0001e" stroke-width="1.5" stroke-linejoin="round"/>
<circle cx="162.70" cy="475.62" r="2.55" fill="#f0001e"/>
<circle cx="188.12" cy="470.72" r="2.55" fill="#f0001e"/>
<circle cx="213.54" cy="477.25" r="2.55" fill="#f0001e"/>
<circle cx="238.96" cy="482.14" r="2.55" fill="#f0001e"/>
<circle cx="264.38" cy="473.98" r="2.55" fill="#f0001e"/>
<circle cx="289.80" cy="470.72" r="2.55" fill="#f0001e"/>
<polyline points="162.70,471.54 188.12,470.72 213.54,471.54 238.96,470.72 264.38,470.72 289.80,470.72" fill="none" stroke="#1a4df0" stroke-width="1.5" stroke-linejoin="round"/>
<circle cx="162.70" cy="471.54" r="2.55" fill="#1a4df0"/>
<circle cx="188.12" cy="470.72" r="2.55" fill="#1a4df0"/>
<circle cx="213.54" cy="471.54" r="2.55" fill="#1a4df0"/>
<circle cx="238.96" cy="470.72" r="2.55" fill="#1a4df0"/>
<circle cx="264.38" cy="470.72" r="2.55" fill="#1a4df0"/>
<circle cx="289.80" cy="470.72" r="2.55" fill="#1a4df0"/>
<polyline points="162.70,472.35 188.12,470.72 213.54,472.35 238.96,470.72 264.38,470.72 289.80,470.72" fill="none" stroke="#1a6e7a" stroke-width="1.5" stroke-linejoin="round"/>
<circle cx="162.70" cy="472.35" r="2.55" fill="#1a6e7a"/>
<circle cx="188.12" cy="470.72" r="2.55" fill="#1a6e7a"/>
<circle cx="213.54" cy="472.35" r="2.55" fill="#1a6e7a"/>
<circle cx="238.96" cy="470.72" r="2.55" fill="#1a6e7a"/>
<circle cx="264.38" cy="470.72" r="2.55" fill="#1a6e7a"/>
<circle cx="289.80" cy="470.72" r="2.55" fill="#1a6e7a"/>
<polyline points="162.70,470.72 188.12,470.72 213.54,470.72 238.96,470.72 264.38,470.72 289.80,470.72" fill="none" stroke="#2b0f54" stroke-width="1.5" stroke-linejoin="round"/>
<circle cx="162.70" cy="470.72" r="2.55" fill="#2b0f54"/>
<circle cx="188.12" cy="470.72" r="2.55" fill="#2b0f54"/>
<circle cx="213.54" cy="470.72" r="2.55" fill="#2b0f54"/>
<circle cx="238.96" cy="470.72" r="2.55" fill="#2b0f54"/>
<circle cx="264.38" cy="470.72" r="2.55" fill="#2b0f54"/>
<circle cx="289.80" cy="470.72" r="2.55" fill="#2b0f54"/>
<path d="M145.50 453.70 V536.00 H306.90" stroke="#000" stroke-width="1.4" fill="none"/>
<path d="M141.70 536.00 H145.50" stroke="#000" stroke-width="1.4" fill="none"/>
<text x="140.30" y="538.92" font-size="8.15" text-anchor="end" fill="#000">60</text>
<path d="M141.70 519.68 H145.50" stroke="#000" stroke-width="1.4" fill="none"/>
<text x="140.30" y="522.60" font-size="8.15" text-anchor="end" fill="#000">70</text>
<path d="M141.70 503.36 H145.50" stroke="#000" stroke-width="1.4" fill="none"/>
<text x="140.30" y="506.28" font-size="8.15" text-anchor="end" fill="#000">80</text>
<path d="M141.70 487.04 H145.50" stroke="#000" stroke-width="1.4" fill="none"/>
<text x="140.30" y="489.96" font-size="8.15" text-anchor="end" fill="#000">90</text>
<path d="M141.70 470.72 H145.50" stroke="#000" stroke-width="1.4" fill="none"/>
<text x="140.30" y="473.64" font-size="8.15" text-anchor="end" fill="#000">100</text>
<path d="M141.70 454.40 H145.50" stroke="#000" stroke-width="1.4" fill="none"/>
<text x="140.30" y="457.32" font-size="8.15" text-anchor="end" fill="#000">110</text>
<path d="M162.70 536.00 V540.00" stroke="#000" stroke-width="1.4" fill="none"/>
<text x="166.30" y="546.40" font-size="8.15" text-anchor="end" fill="#000" transform="rotate(-45 166.30 546.40)">MDA-MB-231</text>
<path d="M188.12 536.00 V540.00" stroke="#000" stroke-width="1.4" fill="none"/>
<text x="191.72" y="546.40" font-size="8.15" text-anchor="end" fill="#000" transform="rotate(-45 191.72 546.40)">A549</text>
<path d="M213.54 536.00 V540.00" stroke="#000" stroke-width="1.4" fill="none"/>
<text x="217.14" y="546.40" font-size="8.15" text-anchor="end" fill="#000" transform="rotate(-45 217.14 546.40)">HCT116</text>
<path d="M238.96 536.00 V540.00" stroke="#000" stroke-width="1.4" fill="none"/>
<text x="242.56" y="546.40" font-size="8.15" text-anchor="end" fill="#000" transform="rotate(-45 242.56 546.40)">Hela</text>
<path d="M264.38 536.00 V540.00" stroke="#000" stroke-width="1.4" fill="none"/>
<text x="267.98" y="546.40" font-size="8.15" text-anchor="end" fill="#000" transform="rotate(-45 267.98 546.40)">THP-1</text>
<path d="M289.80 536.00 V540.00" stroke="#000" stroke-width="1.4" fill="none"/>
<text x="293.40" y="546.40" font-size="8.15" text-anchor="end" fill="#000" transform="rotate(-45 293.40 546.40)">Blank</text>
<text x="220.70" y="446.82" font-size="8.15" text-anchor="middle" fill="#000">Recall</text>
<text x="219.30" y="589.12" font-size="8.15" text-anchor="middle" fill="#000">Cell type</text>
<text x="121.80" y="495.20" font-size="8.15" text-anchor="middle" fill="#000" transform="rotate(-90 121.80 495.20)">Rate (%)</text>
<polyline points="351.60,490.94 376.85,502.31 402.10,493.38 427.35,499.06 452.60,509.62 477.85,473.89" fill="none" stroke="#f09a7a" stroke-width="1.5" stroke-linejoin="round"/>
<circle cx="351.60" cy="490.94" r="2.55" fill="#f09a7a"/>
<circle cx="376.85" cy="502.31" r="2.55" fill="#f09a7a"/>
<circle cx="402.10" cy="493.38" r="2.55" fill="#f09a7a"/>
<circle cx="427.35" cy="499.06" r="2.55" fill="#f09a7a"/>
<circle cx="452.60" cy="509.62" r="2.55" fill="#f09a7a"/>
<circle cx="477.85" cy="473.89" r="2.55" fill="#f09a7a"/>
<polyline points="351.60,494.19 376.85,505.56 402.10,490.94 427.35,506.86 452.60,480.38 477.85,470.64" fill="none" stroke="#6bbfc8" stroke-width="1.5" stroke-linejoin="round"/>
<circle cx="351.60" cy="494.19" r="2.55" fill="#6bbfc8"/>
<circle cx="376.85" cy="505.56" r="2.55" fill="#6bbfc8"/>
<circle cx="402.10" cy="490.94" r="2.55" fill="#6bbfc8"/>
<circle cx="427.35" cy="506.86" r="2.55" fill="#6bbfc8"/>
<circle cx="452.60" cy="480.38" r="2.55" fill="#6bbfc8"/>
<circle cx="477.85" cy="470.64" r="2.55" fill="#6bbfc8"/>
<polyline points="351.60,483.63 376.85,482.01 402.10,484.44 427.35,483.63 452.60,472.26 477.85,470.64" fill="none" stroke="#12b5f5" stroke-width="1.5" stroke-linejoin="round"/>
<circle cx="351.60" cy="483.63" r="2.55" fill="#12b5f5"/>
<circle cx="376.85" cy="482.01" r="2.55" fill="#12b5f5"/>
<circle cx="402.10" cy="484.44" r="2.55" fill="#12b5f5"/>
<circle cx="427.35" cy="483.63" r="2.55" fill="#12b5f5"/>
<circle cx="452.60" cy="472.26" r="2.55" fill="#12b5f5"/>
<circle cx="477.85" cy="470.64" r="2.55" fill="#12b5f5"/>
<polyline points="351.60,475.51 376.85,478.76 402.10,472.26 427.35,471.45 452.60,475.51 477.85,470.64" fill="none" stroke="#a07fd6" stroke-width="1.5" stroke-linejoin="round"/>
<circle cx="351.60" cy="475.51" r="2.55" fill="#a07fd6"/>
<circle cx="376.85" cy="478.76" r="2.55" fill="#a07fd6"/>
<circle cx="402.10" cy="472.26" r="2.55" fill="#a07fd6"/>
<circle cx="427.35" cy="471.45" r="2.55" fill="#a07fd6"/>
<circle cx="452.60" cy="475.51" r="2.55" fill="#a07fd6"/>
<circle cx="477.85" cy="470.64" r="2.55" fill="#a07fd6"/>
<polyline points="351.60,475.51 376.85,473.89 402.10,472.26 427.35,473.89 452.60,473.89 477.85,470.64" fill="none" stroke="#f25a0f" stroke-width="1.5" stroke-linejoin="round"/>
<circle cx="351.60" cy="475.51" r="2.55" fill="#f25a0f"/>
<circle cx="376.85" cy="473.89" r="2.55" fill="#f25a0f"/>
<circle cx="402.10" cy="472.26" r="2.55" fill="#f25a0f"/>
<circle cx="427.35" cy="473.89" r="2.55" fill="#f25a0f"/>
<circle cx="452.60" cy="473.89" r="2.55" fill="#f25a0f"/>
<circle cx="477.85" cy="470.64" r="2.55" fill="#f25a0f"/>
<polyline points="351.60,478.76 376.85,472.26 402.10,475.51 427.35,482.01 452.60,471.45 477.85,470.64" fill="none" stroke="#f0001e" stroke-width="1.5" stroke-linejoin="round"/>
<circle cx="351.60" cy="478.76" r="2.55" fill="#f0001e"/>
<circle cx="376.85" cy="472.26" r="2.55" fill="#f0001e"/>
<circle cx="402.10" cy="475.51" r="2.55" fill="#f0001e"/>
<circle cx="427.35" cy="482.01" r="2.55" fill="#f0001e"/>
<circle cx="452.60" cy="471.45" r="2.55" fill="#f0001e"/>
<circle cx="477.85" cy="470.64" r="2.55" fill="#f0001e"/>
<polyline points="351.60,471.45 376.85,471.45 402.10,470.64 427.35,470.64 452.60,470.64 477.85,470.64" fill="none" stroke="#1a4df0" stroke-width="1.5" stroke-linejoin="round"/>
<circle cx="351.60" cy="471.45" r="2.55" fill="#1a4df0"/>
<circle cx="376.85" cy="471.45" r="2.55" fill="#1a4df0"/>
<circle cx="402.10" cy="470.64" r="2.55" fill="#1a4df0"/>
<circle cx="427.35" cy="470.64" r="2.55" fill="#1a4df0"/>
<circle cx="452.60" cy="470.64" r="2.55" fill="#1a4df0"/>
<circle cx="477.85" cy="470.64" r="2.55" fill="#1a4df0"/>
<polyline points="351.60,472.26 376.85,472.26 402.10,471.45 427.35,470.64 452.60,470.64 477.85,470.64" fill="none" stroke="#1a6e7a" stroke-width="1.5" stroke-linejoin="round"/>
<circle cx="351.60" cy="472.26" r="2.55" fill="#1a6e7a"/>
<circle cx="376.85" cy="472.26" r="2.55" fill="#1a6e7a"/>
<circle cx="402.10" cy="471.45" r="2.55" fill="#1a6e7a"/>
<circle cx="427.35" cy="470.64" r="2.55" fill="#1a6e7a"/>
<circle cx="452.60" cy="470.64" r="2.55" fill="#1a6e7a"/>
<circle cx="477.85" cy="470.64" r="2.55" fill="#1a6e7a"/>
<polyline points="351.60,470.64 376.85,470.64 402.10,470.64 427.35,470.64 452.60,470.64 477.85,470.64" fill="none" stroke="#2b0f54" stroke-width="1.5" stroke-linejoin="round"/>
<circle cx="351.60" cy="470.64" r="2.55" fill="#2b0f54"/>
<circle cx="376.85" cy="470.64" r="2.55" fill="#2b0f54"/>
<circle cx="402.10" cy="470.64" r="2.55" fill="#2b0f54"/>
<circle cx="427.35" cy="470.64" r="2.55" fill="#2b0f54"/>
<circle cx="452.60" cy="470.64" r="2.55" fill="#2b0f54"/>
<circle cx="477.85" cy="470.64" r="2.55" fill="#2b0f54"/>
<path d="M334.70 453.70 V535.60 H495.70" stroke="#000" stroke-width="1.4" fill="none"/>
<path d="M330.90 535.60 H334.70" stroke="#000" stroke-width="1.4" fill="none"/>
<text x="329.50" y="538.52" font-size="8.15" text-anchor="end" fill="#000">60</text>
<path d="M330.90 519.36 H334.70" stroke="#000" stroke-width="1.4" fill="none"/>
<text x="329.50" y="522.28" font-size="8.15" text-anchor="end" fill="#000">70</text>
<path d="M330.90 503.12 H334.70" stroke="#000" stroke-width="1.4" fill="none"/>
<text x="329.50" y="506.04" font-size="8.15" text-anchor="end" fill="#000">80</text>
<path d="M330.90 486.88 H334.70" stroke="#000" stroke-width="1.4" fill="none"/>
<text x="329.50" y="489.80" font-size="8.15" text-anchor="end" fill="#000">90</text>
<path d="M330.90 470.64 H334.70" stroke="#000" stroke-width="1.4" fill="none"/>
<text x="329.50" y="473.56" font-size="8.15" text-anchor="end" fill="#000">100</text>
<path d="M330.90 454.40 H334.70" stroke="#000" stroke-width="1.4" fill="none"/>
<text x="329.50" y="457.32" font-size="8.15" text-anchor="end" fill="#000">110</text>
<path d="M351.60 535.60 V539.60" stroke="#000" stroke-width="1.4" fill="none"/>
<text x="355.20" y="546.00" font-size="8.15" text-anchor="end" fill="#000" transform="rotate(-45 355.20 546.00)">MDA-MB-231</text>
<path d="M376.85 535.60 V539.60" stroke="#000" stroke-width="1.4" fill="none"/>
<text x="380.45" y="546.00" font-size="8.15" text-anchor="end" fill="#000" transform="rotate(-45 380.45 546.00)">A549</text>
<path d="M402.10 535.60 V539.60" stroke="#000" stroke-width="1.4" fill="none"/>
<text x="405.70" y="546.00" font-size="8.15" text-anchor="end" fill="#000" transform="rotate(-45 405.70 546.00)">HCT116</text>
<path d="M427.35 535.60 V539.60" stroke="#000" stroke-width="1.4" fill="none"/>
<text x="430.95" y="546.00" font-size="8.15" text-anchor="end" fill="#000" transform="rotate(-45 430.95 546.00)">Hela</text>
<path d="M452.60 535.60 V539.60" stroke="#000" stroke-width="1.4" fill="none"/>
<text x="456.20" y="546.00" font-size="8.15" text-anchor="end" fill="#000" transform="rotate(-45 456.20 546.00)">THP-1</text>
<path d="M477.85 535.60 V539.60" stroke="#000" stroke-width="1.4" fill="none"/>
<text x="481.45" y="546.00" font-size="8.15" text-anchor="end" fill="#000" transform="rotate(-45 481.45 546.00)">Blank</text>
<text x="406.50" y="446.82" font-size="8.15" text-anchor="middle" fill="#000">Precision</text>
<text x="408.50" y="589.12" font-size="8.15" text-anchor="middle" fill="#000">Cell type</text>
<text x="310.40" y="495.00" font-size="8.15" text-anchor="middle" fill="#000" transform="rotate(-90 310.40 495.00)">Rate (%)</text>
<polyline points="538.00,490.22 563.80,498.49 589.60,505.10 615.40,496.00 641.20,491.04 667.00,470.37" fill="none" stroke="#6bbfc8" stroke-width="1.5" stroke-linejoin="round"/>
<circle cx="538.00" cy="490.22" r="2.55" fill="#6bbfc8"/>
<circle cx="563.80" cy="498.49" r="2.55" fill="#6bbfc8"/>
<circle cx="589.60" cy="505.10" r="2.55" fill="#6bbfc8"/>
<circle cx="615.40" cy="496.00" r="2.55" fill="#6bbfc8"/>
<circle cx="641.20" cy="491.04" r="2.55" fill="#6bbfc8"/>
<circle cx="667.00" cy="470.37" r="2.55" fill="#6bbfc8"/>
<polyline points="538.00,482.77 563.80,477.81 589.60,487.73 615.40,481.94 641.20,471.19 667.00,470.37" fill="none" stroke="#12b5f5" stroke-width="1.5" stroke-linejoin="round"/>
<circle cx="538.00" cy="482.77" r="2.55" fill="#12b5f5"/>
<circle cx="563.80" cy="477.81" r="2.55" fill="#12b5f5"/>
<circle cx="589.60" cy="487.73" r="2.55" fill="#12b5f5"/>
<circle cx="615.40" cy="481.94" r="2.55" fill="#12b5f5"/>
<circle cx="641.20" cy="471.19" r="2.55" fill="#12b5f5"/>
<circle cx="667.00" cy="470.37" r="2.55" fill="#12b5f5"/>
<polyline points="538.00,486.91 563.80,496.00 589.60,507.58 615.40,491.87 641.20,499.31 667.00,478.64" fill="none" stroke="#f09a7a" stroke-width="1.5" stroke-linejoin="round"/>
<circle cx="538.00" cy="486.91" r="2.55" fill="#f09a7a"/>
<circle cx="563.80" cy="496.00" r="2.55" fill="#f09a7a"/>
<circle cx="589.60" cy="507.58" r="2.55" fill="#f09a7a"/>
<circle cx="615.40" cy="491.87" r="2.55" fill="#f09a7a"/>
<circle cx="641.20" cy="499.31" r="2.55" fill="#f09a7a"/>
<circle cx="667.00" cy="478.64" r="2.55" fill="#f09a7a"/>
<polyline points="538.00,472.85 563.80,475.33 589.60,475.33 615.40,471.19 641.20,474.50 667.00,469.54" fill="none" stroke="#a07fd6" stroke-width="1.5" stroke-linejoin="round"/>
<circle cx="538.00" cy="472.85" r="2.55" fill="#a07fd6"/>
<circle cx="563.80" cy="475.33" r="2.55" fill="#a07fd6"/>
<circle cx="589.60" cy="475.33" r="2.55" fill="#a07fd6"/>
<circle cx="615.40" cy="471.19" r="2.55" fill="#a07fd6"/>
<circle cx="641.20" cy="474.50" r="2.55" fill="#a07fd6"/>
<circle cx="667.00" cy="469.54" r="2.55" fill="#a07fd6"/>
<polyline points="538.00,473.68 563.80,473.68 589.60,472.85 615.40,473.68 641.20,472.02 667.00,469.54" fill="none" stroke="#f25a0f" stroke-width="1.5" stroke-linejoin="round"/>
<circle cx="538.00" cy="473.68" r="2.55" fill="#f25a0f"/>
<circle cx="563.80" cy="473.68" r="2.55" fill="#f25a0f"/>
<circle cx="589.60" cy="472.85" r="2.55" fill="#f25a0f"/>
<circle cx="615.40" cy="473.68" r="2.55" fill="#f25a0f"/>
<circle cx="641.20" cy="472.02" r="2.55" fill="#f25a0f"/>
<circle cx="667.00" cy="469.54" r="2.55" fill="#f25a0f"/>
<polyline points="538.00,476.16 563.80,470.37 589.60,475.33 615.40,481.12 641.20,471.19 667.00,469.54" fill="none" stroke="#f0001e" stroke-width="1.5" stroke-linejoin="round"/>
<circle cx="538.00" cy="476.16" r="2.55" fill="#f0001e"/>
<circle cx="563.80" cy="470.37" r="2.55" fill="#f0001e"/>
<circle cx="589.60" cy="475.33" r="2.55" fill="#f0001e"/>
<circle cx="615.40" cy="481.12" r="2.55" fill="#f0001e"/>
<circle cx="641.20" cy="471.19" r="2.55" fill="#f0001e"/>
<circle cx="667.00" cy="469.54" r="2.55" fill="#f0001e"/>
<polyline points="538.00,470.37 563.80,470.04 589.60,470.04 615.40,469.54 641.20,469.54 667.00,469.54" fill="none" stroke="#1a4df0" stroke-width="1.5" stroke-linejoin="round"/>
<circle cx="538.00" cy="470.37" r="2.55" fill="#1a4df0"/>
<circle cx="563.80" cy="470.04" r="2.55" fill="#1a4df0"/>
<circle cx="589.60" cy="470.04" r="2.55" fill="#1a4df0"/>
<circle cx="615.40" cy="469.54" r="2.55" fill="#1a4df0"/>
<circle cx="641.20" cy="469.54" r="2.55" fill="#1a4df0"/>
<circle cx="667.00" cy="469.54" r="2.55" fill="#1a4df0"/>
<polyline points="538.00,471.19 563.80,470.37 589.60,471.19 615.40,469.54 641.20,469.54 667.00,469.54" fill="none" stroke="#1a6e7a" stroke-width="1.5" stroke-linejoin="round"/>
<circle cx="538.00" cy="471.19" r="2.55" fill="#1a6e7a"/>
<circle cx="563.80" cy="470.37" r="2.55" fill="#1a6e7a"/>
<circle cx="589.60" cy="471.19" r="2.55" fill="#1a6e7a"/>
<circle cx="615.40" cy="469.54" r="2.55" fill="#1a6e7a"/>
<circle cx="641.20" cy="469.54" r="2.55" fill="#1a6e7a"/>
<circle cx="667.00" cy="469.54" r="2.55" fill="#1a6e7a"/>
<polyline points="538.00,469.54 563.80,469.54 589.60,469.54 615.40,469.54 641.20,469.54 667.00,469.54" fill="none" stroke="#2b0f54" stroke-width="1.5" stroke-linejoin="round"/>
<circle cx="538.00" cy="469.54" r="2.55" fill="#2b0f54"/>
<circle cx="563.80" cy="469.54" r="2.55" fill="#2b0f54"/>
<circle cx="589.60" cy="469.54" r="2.55" fill="#2b0f54"/>
<circle cx="615.40" cy="469.54" r="2.55" fill="#2b0f54"/>
<circle cx="641.20" cy="469.54" r="2.55" fill="#2b0f54"/>
<circle cx="667.00" cy="469.54" r="2.55" fill="#2b0f54"/>
<path d="M520.80 452.30 V535.70 H685.00" stroke="#000" stroke-width="1.4" fill="none"/>
<path d="M517.00 535.70 H520.80" stroke="#000" stroke-width="1.4" fill="none"/>
<text x="515.60" y="538.62" font-size="8.15" text-anchor="end" fill="#000">60</text>
<path d="M517.00 519.16 H520.80" stroke="#000" stroke-width="1.4" fill="none"/>
<text x="515.60" y="522.08" font-size="8.15" text-anchor="end" fill="#000">70</text>
<path d="M517.00 502.62 H520.80" stroke="#000" stroke-width="1.4" fill="none"/>
<text x="515.60" y="505.54" font-size="8.15" text-anchor="end" fill="#000">80</text>
<path d="M517.00 486.08 H520.80" stroke="#000" stroke-width="1.4" fill="none"/>
<text x="515.60" y="489.00" font-size="8.15" text-anchor="end" fill="#000">90</text>
<path d="M517.00 469.54 H520.80" stroke="#000" stroke-width="1.4" fill="none"/>
<text x="515.60" y="472.46" font-size="8.15" text-anchor="end" fill="#000">100</text>
<path d="M517.00 453.00 H520.80" stroke="#000" stroke-width="1.4" fill="none"/>
<text x="515.60" y="455.92" font-size="8.15" text-anchor="end" fill="#000">110</text>
<path d="M538.00 535.70 V539.70" stroke="#000" stroke-width="1.4" fill="none"/>
<text x="541.60" y="546.10" font-size="8.15" text-anchor="end" fill="#000" transform="rotate(-45 541.60 546.10)">MDA-MB-231</text>
<path d="M563.80 535.70 V539.70" stroke="#000" stroke-width="1.4" fill="none"/>
<text x="567.40" y="546.10" font-size="8.15" text-anchor="end" fill="#000" transform="rotate(-45 567.40 546.10)">A549</text>
<path d="M589.60 535.70 V539.70" stroke="#000" stroke-width="1.4" fill="none"/>
<text x="593.20" y="546.10" font-size="8.15" text-anchor="end" fill="#000" transform="rotate(-45 593.20 546.10)">HCT116</text>
<path d="M615.40 535.70 V539.70" stroke="#000" stroke-width="1.4" fill="none"/>
<text x="619.00" y="546.10" font-size="8.15" text-anchor="end" fill="#000" transform="rotate(-45 619.00 546.10)">Hela</text>
<path d="M641.20 535.70 V539.70" stroke="#000" stroke-width="1.4" fill="none"/>
<text x="644.80" y="546.10" font-size="8.15" text-anchor="end" fill="#000" transform="rotate(-45 644.80 546.10)">THP-1</text>
<path d="M667.00 535.70 V539.70" stroke="#000" stroke-width="1.4" fill="none"/>
<text x="670.60" y="546.10" font-size="8.15" text-anchor="end" fill="#000" transform="rotate(-45 670.60 546.10)">Blank</text>
<text x="596.20" y="445.92" font-size="8.15" text-anchor="middle" fill="#000">F1-Score</text>
<text x="596.20" y="589.12" font-size="8.15" text-anchor="middle" fill="#000">Cell type</text>
<text x="497.90" y="494.35" font-size="8.15" text-anchor="middle" fill="#000" transform="rotate(-90 497.90 494.35)">Rate (%)</text>
<polyline points="161.30,652.42 186.05,663.83 210.80,667.28 235.55,661.18 260.30,651.89 285.05,644.46" fill="none" stroke="#6bbfc8" stroke-width="1.5" stroke-linejoin="round"/>
<circle cx="161.30" cy="652.42" r="2.55" fill="#6bbfc8"/>
<circle cx="186.05" cy="663.83" r="2.55" fill="#6bbfc8"/>
<circle cx="210.80" cy="667.28" r="2.55" fill="#6bbfc8"/>
<circle cx="235.55" cy="661.18" r="2.55" fill="#6bbfc8"/>
<circle cx="260.30" cy="651.89" r="2.55" fill="#6bbfc8"/>
<circle cx="285.05" cy="644.46" r="2.55" fill="#6bbfc8"/>
<polyline points="161.30,649.24 186.05,652.69 210.80,655.34 235.55,651.10 260.30,645.79 285.05,645.26" fill="none" stroke="#12b5f5" stroke-width="1.5" stroke-linejoin="round"/>
<circle cx="161.30" cy="649.24" r="2.55" fill="#12b5f5"/>
<circle cx="186.05" cy="652.69" r="2.55" fill="#12b5f5"/>
<circle cx="210.80" cy="655.34" r="2.55" fill="#12b5f5"/>
<circle cx="235.55" cy="651.10" r="2.55" fill="#12b5f5"/>
<circle cx="260.30" cy="645.79" r="2.55" fill="#12b5f5"/>
<circle cx="285.05" cy="645.26" r="2.55" fill="#12b5f5"/>
<polyline points="161.30,651.89 186.05,661.98 210.80,668.34 235.55,661.71 260.30,659.85 285.05,654.55" fill="none" stroke="#f09a7a" stroke-width="1.5" stroke-linejoin="round"/>
<circle cx="161.30" cy="651.89" r="2.55" fill="#f09a7a"/>
<circle cx="186.05" cy="661.98" r="2.55" fill="#f09a7a"/>
<circle cx="210.80" cy="668.34" r="2.55" fill="#f09a7a"/>
<circle cx="235.55" cy="661.71" r="2.55" fill="#f09a7a"/>
<circle cx="260.30" cy="659.85" r="2.55" fill="#f09a7a"/>
<circle cx="285.05" cy="654.55" r="2.55" fill="#f09a7a"/>
<polyline points="161.30,645.79 186.05,646.59 210.80,647.38 235.55,646.59 260.30,645.26 285.05,643.93" fill="none" stroke="#a07fd6" stroke-width="1.5" stroke-linejoin="round"/>
<circle cx="161.30" cy="645.79" r="2.55" fill="#a07fd6"/>
<circle cx="186.05" cy="646.59" r="2.55" fill="#a07fd6"/>
<circle cx="210.80" cy="647.38" r="2.55" fill="#a07fd6"/>
<circle cx="235.55" cy="646.59" r="2.55" fill="#a07fd6"/>
<circle cx="260.30" cy="645.26" r="2.55" fill="#a07fd6"/>
<circle cx="285.05" cy="643.93" r="2.55" fill="#a07fd6"/>
<polyline points="161.30,646.59 186.05,646.59 210.80,646.59 235.55,646.59 260.30,644.73 285.05,643.93" fill="none" stroke="#f25a0f" stroke-width="1.5" stroke-linejoin="round"/>
<circle cx="161.30" cy="646.59" r="2.55" fill="#f25a0f"/>
<circle cx="186.05" cy="646.59" r="2.55" fill="#f25a0f"/>
<circle cx="210.80" cy="646.59" r="2.55" fill="#f25a0f"/>
<circle cx="235.55" cy="646.59" r="2.55" fill="#f25a0f"/>
<circle cx="260.30" cy="644.73" r="2.55" fill="#f25a0f"/>
<circle cx="285.05" cy="643.93" r="2.55" fill="#f25a0f"/>
<polyline points="161.30,647.91 186.05,646.59 210.80,649.24 235.55,649.24 260.30,644.73 285.05,643.93" fill="none" stroke="#f0001e" stroke-width="1.5" stroke-linejoin="round"/>
<circle cx="161.30" cy="647.91" r="2.55" fill="#f0001e"/>
<circle cx="186.05" cy="646.59" r="2.55" fill="#f0001e"/>
<circle cx="210.80" cy="649.24" r="2.55" fill="#f0001e"/>
<circle cx="235.55" cy="649.24" r="2.55" fill="#f0001e"/>
<circle cx="260.30" cy="644.73" r="2.55" fill="#f0001e"/>
<circle cx="285.05" cy="643.93" r="2.55" fill="#f0001e"/>
<polyline points="161.30,644.46 186.05,644.20 210.80,644.46 235.55,643.93 260.30,643.93 285.05,643.93" fill="none" stroke="#1a4df0" stroke-width="1.5" stroke-linejoin="round"/>
<circle cx="161.30" cy="644.46" r="2.55" fill="#1a4df0"/>
<circle cx="186.05" cy="644.20" r="2.55" fill="#1a4df0"/>
<circle cx="210.80" cy="644.46" r="2.55" fill="#1a4df0"/>
<circle cx="235.55" cy="643.93" r="2.55" fill="#1a4df0"/>
<circle cx="260.30" cy="643.93" r="2.55" fill="#1a4df0"/>
<circle cx="285.05" cy="643.93" r="2.55" fill="#1a4df0"/>
<polyline points="161.30,645.26 186.05,645.26 210.80,645.26 235.55,644.73 260.30,643.93 285.05,643.93" fill="none" stroke="#1a6e7a" stroke-width="1.5" stroke-linejoin="round"/>
<circle cx="161.30" cy="645.26" r="2.55" fill="#1a6e7a"/>
<circle cx="186.05" cy="645.26" r="2.55" fill="#1a6e7a"/>
<circle cx="210.80" cy="645.26" r="2.55" fill="#1a6e7a"/>
<circle cx="235.55" cy="644.73" r="2.55" fill="#1a6e7a"/>
<circle cx="260.30" cy="643.93" r="2.55" fill="#1a6e7a"/>
<circle cx="285.05" cy="643.93" r="2.55" fill="#1a6e7a"/>
<polyline points="161.30,643.93 186.05,643.93 210.80,643.93 235.55,643.93 260.30,643.93 285.05,643.93" fill="none" stroke="#2b0f54" stroke-width="1.5" stroke-linejoin="round"/>
<circle cx="161.30" cy="643.93" r="2.55" fill="#2b0f54"/>
<circle cx="186.05" cy="643.93" r="2.55" fill="#2b0f54"/>
<circle cx="210.80" cy="643.93" r="2.55" fill="#2b0f54"/>
<circle cx="235.55" cy="643.93" r="2.55" fill="#2b0f54"/>
<circle cx="260.30" cy="643.93" r="2.55" fill="#2b0f54"/>
<circle cx="285.05" cy="643.93" r="2.55" fill="#2b0f54"/>
<path d="M144.70 616.70 V697.00 H301.80" stroke="#000" stroke-width="1.4" fill="none"/>
<path d="M140.90 697.00 H144.70" stroke="#000" stroke-width="1.4" fill="none"/>
<text x="139.50" y="699.92" font-size="8.15" text-anchor="end" fill="#000">80</text>
<path d="M140.90 670.47 H144.70" stroke="#000" stroke-width="1.4" fill="none"/>
<text x="139.50" y="673.38" font-size="8.15" text-anchor="end" fill="#000">90</text>
<path d="M140.90 643.93 H144.70" stroke="#000" stroke-width="1.4" fill="none"/>
<text x="139.50" y="646.85" font-size="8.15" text-anchor="end" fill="#000">100</text>
<path d="M140.90 617.40 H144.70" stroke="#000" stroke-width="1.4" fill="none"/>
<text x="139.50" y="620.32" font-size="8.15" text-anchor="end" fill="#000">110</text>
<path d="M161.30 697.00 V701.00" stroke="#000" stroke-width="1.4" fill="none"/>
<text x="164.90" y="707.40" font-size="8.15" text-anchor="end" fill="#000" transform="rotate(-45 164.90 707.40)">MDA-MB-231</text>
<path d="M186.05 697.00 V701.00" stroke="#000" stroke-width="1.4" fill="none"/>
<text x="189.65" y="707.40" font-size="8.15" text-anchor="end" fill="#000" transform="rotate(-45 189.65 707.40)">A549</text>
<path d="M210.80 697.00 V701.00" stroke="#000" stroke-width="1.4" fill="none"/>
<text x="214.40" y="707.40" font-size="8.15" text-anchor="end" fill="#000" transform="rotate(-45 214.40 707.40)">HCT116</text>
<path d="M235.55 697.00 V701.00" stroke="#000" stroke-width="1.4" fill="none"/>
<text x="239.15" y="707.40" font-size="8.15" text-anchor="end" fill="#000" transform="rotate(-45 239.15 707.40)">Hela</text>
<path d="M260.30 697.00 V701.00" stroke="#000" stroke-width="1.4" fill="none"/>
<text x="263.90" y="707.40" font-size="8.15" text-anchor="end" fill="#000" transform="rotate(-45 263.90 707.40)">THP-1</text>
<path d="M285.05 697.00 V701.00" stroke="#000" stroke-width="1.4" fill="none"/>
<text x="288.65" y="707.40" font-size="8.15" text-anchor="end" fill="#000" transform="rotate(-45 288.65 707.40)">Blank</text>
<text x="218.50" y="609.82" font-size="8.15" text-anchor="middle" fill="#000">Accuracy</text>
<text x="218.20" y="749.62" font-size="8.15" text-anchor="middle" fill="#000">Cell type</text>
<text x="123.40" y="657.20" font-size="8.15" text-anchor="middle" fill="#000" transform="rotate(-90 123.40 657.20)">Rate (%)</text>
<polyline points="352.70,640.58 378.12,641.39 403.54,650.39 428.96,643.03 454.38,638.12 479.80,632.40" fill="none" stroke="#6bbfc8" stroke-width="1.5" stroke-linejoin="round"/>
<circle cx="352.70" cy="640.58" r="2.55" fill="#6bbfc8"/>
<circle cx="378.12" cy="641.39" r="2.55" fill="#6bbfc8"/>
<circle cx="403.54" cy="650.39" r="2.55" fill="#6bbfc8"/>
<circle cx="428.96" cy="643.03" r="2.55" fill="#6bbfc8"/>
<circle cx="454.38" cy="638.12" r="2.55" fill="#6bbfc8"/>
<circle cx="479.80" cy="632.40" r="2.55" fill="#6bbfc8"/>
<polyline points="352.70,637.71 378.12,636.89 403.54,655.30 428.96,647.12 454.38,635.67 479.80,632.40" fill="none" stroke="#12b5f5" stroke-width="1.5" stroke-linejoin="round"/>
<circle cx="352.70" cy="637.71" r="2.55" fill="#12b5f5"/>
<circle cx="378.12" cy="636.89" r="2.55" fill="#12b5f5"/>
<circle cx="403.54" cy="655.30" r="2.55" fill="#12b5f5"/>
<circle cx="428.96" cy="647.12" r="2.55" fill="#12b5f5"/>
<circle cx="454.38" cy="635.67" r="2.55" fill="#12b5f5"/>
<circle cx="479.80" cy="632.40" r="2.55" fill="#12b5f5"/>
<polyline points="352.70,645.48 378.12,642.21 403.54,680.66 428.96,647.94 454.38,644.67 479.80,643.03" fill="none" stroke="#f09a7a" stroke-width="1.5" stroke-linejoin="round"/>
<circle cx="352.70" cy="645.48" r="2.55" fill="#f09a7a"/>
<circle cx="378.12" cy="642.21" r="2.55" fill="#f09a7a"/>
<circle cx="403.54" cy="680.66" r="2.55" fill="#f09a7a"/>
<circle cx="428.96" cy="647.94" r="2.55" fill="#f09a7a"/>
<circle cx="454.38" cy="644.67" r="2.55" fill="#f09a7a"/>
<circle cx="479.80" cy="643.03" r="2.55" fill="#f09a7a"/>
<polyline points="352.70,631.58 378.12,630.76 403.54,631.58 428.96,631.58 454.38,630.76 479.80,630.76" fill="none" stroke="#a07fd6" stroke-width="1.5" stroke-linejoin="round"/>
<circle cx="352.70" cy="631.58" r="2.55" fill="#a07fd6"/>
<circle cx="378.12" cy="630.76" r="2.55" fill="#a07fd6"/>
<circle cx="403.54" cy="631.58" r="2.55" fill="#a07fd6"/>
<circle cx="428.96" cy="631.58" r="2.55" fill="#a07fd6"/>
<circle cx="454.38" cy="630.76" r="2.55" fill="#a07fd6"/>
<circle cx="479.80" cy="630.76" r="2.55" fill="#a07fd6"/>
<polyline points="352.70,632.40 378.12,630.76 403.54,631.58 428.96,635.67 454.38,631.58 479.80,630.76" fill="none" stroke="#f25a0f" stroke-width="1.5" stroke-linejoin="round"/>
<circle cx="352.70" cy="632.40" r="2.55" fill="#f25a0f"/>
<circle cx="378.12" cy="630.76" r="2.55" fill="#f25a0f"/>
<circle cx="403.54" cy="631.58" r="2.55" fill="#f25a0f"/>
<circle cx="428.96" cy="635.67" r="2.55" fill="#f25a0f"/>
<circle cx="454.38" cy="631.58" r="2.55" fill="#f25a0f"/>
<circle cx="479.80" cy="630.76" r="2.55" fill="#f25a0f"/>
<polyline points="352.70,633.21 378.12,630.76 403.54,631.58 428.96,642.21 454.38,631.58 479.80,630.76" fill="none" stroke="#f0001e" stroke-width="1.5" stroke-linejoin="round"/>
<circle cx="352.70" cy="633.21" r="2.55" fill="#f0001e"/>
<circle cx="378.12" cy="630.76" r="2.55" fill="#f0001e"/>
<circle cx="403.54" cy="631.58" r="2.55" fill="#f0001e"/>
<circle cx="428.96" cy="642.21" r="2.55" fill="#f0001e"/>
<circle cx="454.38" cy="631.58" r="2.55" fill="#f0001e"/>
<circle cx="479.80" cy="630.76" r="2.55" fill="#f0001e"/>
<polyline points="352.70,630.76 378.12,630.76 403.54,630.76 428.96,630.76 454.38,630.76 479.80,630.76" fill="none" stroke="#1a4df0" stroke-width="1.5" stroke-linejoin="round"/>
<circle cx="352.70" cy="630.76" r="2.55" fill="#1a4df0"/>
<circle cx="378.12" cy="630.76" r="2.55" fill="#1a4df0"/>
<circle cx="403.54" cy="630.76" r="2.55" fill="#1a4df0"/>
<circle cx="428.96" cy="630.76" r="2.55" fill="#1a4df0"/>
<circle cx="454.38" cy="630.76" r="2.55" fill="#1a4df0"/>
<circle cx="479.80" cy="630.76" r="2.55" fill="#1a4df0"/>
<polyline points="352.70,631.58 378.12,630.76 403.54,631.17 428.96,630.76 454.38,630.76 479.80,630.76" fill="none" stroke="#1a6e7a" stroke-width="1.5" stroke-linejoin="round"/>
<circle cx="352.70" cy="631.58" r="2.55" fill="#1a6e7a"/>
<circle cx="378.12" cy="630.76" r="2.55" fill="#1a6e7a"/>
<circle cx="403.54" cy="631.17" r="2.55" fill="#1a6e7a"/>
<circle cx="428.96" cy="630.76" r="2.55" fill="#1a6e7a"/>
<circle cx="454.38" cy="630.76" r="2.55" fill="#1a6e7a"/>
<circle cx="479.80" cy="630.76" r="2.55" fill="#1a6e7a"/>
<polyline points="352.70,630.76 378.12,630.76 403.54,630.76 428.96,630.76 454.38,630.76 479.80,630.76" fill="none" stroke="#2b0f54" stroke-width="1.5" stroke-linejoin="round"/>
<circle cx="352.70" cy="630.76" r="2.55" fill="#2b0f54"/>
<circle cx="378.12" cy="630.76" r="2.55" fill="#2b0f54"/>
<circle cx="403.54" cy="630.76" r="2.55" fill="#2b0f54"/>
<circle cx="428.96" cy="630.76" r="2.55" fill="#2b0f54"/>
<circle cx="454.38" cy="630.76" r="2.55" fill="#2b0f54"/>
<circle cx="479.80" cy="630.76" r="2.55" fill="#2b0f54"/>
<path d="M335.50 613.70 V696.20 H497.20" stroke="#000" stroke-width="1.4" fill="none"/>
<path d="M331.70 696.20 H335.50" stroke="#000" stroke-width="1.4" fill="none"/>
<text x="330.30" y="699.12" font-size="8.15" text-anchor="end" fill="#000">0.92</text>
<path d="M331.70 679.84 H335.50" stroke="#000" stroke-width="1.4" fill="none"/>
<text x="330.30" y="682.76" font-size="8.15" text-anchor="end" fill="#000">0.94</text>
<path d="M331.70 663.48 H335.50" stroke="#000" stroke-width="1.4" fill="none"/>
<text x="330.30" y="666.40" font-size="8.15" text-anchor="end" fill="#000">0.96</text>
<path d="M331.70 647.12 H335.50" stroke="#000" stroke-width="1.4" fill="none"/>
<text x="330.30" y="650.04" font-size="8.15" text-anchor="end" fill="#000">0.98</text>
<path d="M331.70 630.76 H335.50" stroke="#000" stroke-width="1.4" fill="none"/>
<text x="330.30" y="633.68" font-size="8.15" text-anchor="end" fill="#000">1.00</text>
<path d="M331.70 614.40 H335.50" stroke="#000" stroke-width="1.4" fill="none"/>
<text x="330.30" y="617.32" font-size="8.15" text-anchor="end" fill="#000">1.02</text>
<path d="M352.70 696.20 V700.20" stroke="#000" stroke-width="1.4" fill="none"/>
<text x="356.30" y="706.60" font-size="8.15" text-anchor="end" fill="#000" transform="rotate(-45 356.30 706.60)">MDA-MB-231</text>
<path d="M378.12 696.20 V700.20" stroke="#000" stroke-width="1.4" fill="none"/>
<text x="381.72" y="706.60" font-size="8.15" text-anchor="end" fill="#000" transform="rotate(-45 381.72 706.60)">A549</text>
<path d="M403.54 696.20 V700.20" stroke="#000" stroke-width="1.4" fill="none"/>
<text x="407.14" y="706.60" font-size="8.15" text-anchor="end" fill="#000" transform="rotate(-45 407.14 706.60)">HCT116</text>
<path d="M428.96 696.20 V700.20" stroke="#000" stroke-width="1.4" fill="none"/>
<text x="432.56" y="706.60" font-size="8.15" text-anchor="end" fill="#000" transform="rotate(-45 432.56 706.60)">Hela</text>
<path d="M454.38 696.20 V700.20" stroke="#000" stroke-width="1.4" fill="none"/>
<text x="457.98" y="706.60" font-size="8.15" text-anchor="end" fill="#000" transform="rotate(-45 457.98 706.60)">THP-1</text>
<path d="M479.80 696.20 V700.20" stroke="#000" stroke-width="1.4" fill="none"/>
<text x="483.40" y="706.60" font-size="8.15" text-anchor="end" fill="#000" transform="rotate(-45 483.40 706.60)">Blank</text>
<text x="415.40" y="609.82" font-size="8.15" text-anchor="middle" fill="#000">ROC AUC</text>
<text x="410.10" y="749.32" font-size="8.15" text-anchor="middle" fill="#000">Cell type</text>
<text x="309.10" y="655.30" font-size="8.15" text-anchor="middle" fill="#000" transform="rotate(-90 309.10 655.30)">Value (a.u.)</text>
<path d="M512.9 611.3 H681.0" fill="none" stroke="#1a1a1a" stroke-width="1.3" stroke-dasharray="11.4 5.0" stroke-dashoffset="3.0"/>
<path d="M680.9 610.65 V702.4" fill="none" stroke="#1a1a1a" stroke-width="1.3" stroke-dasharray="11.2 4.45" stroke-dashoffset="4.4"/>
<path d="M512.3 701.8 H681.0" fill="none" stroke="#1a1a1a" stroke-width="1.3" stroke-dasharray="11.4 5.0" stroke-dashoffset="-0.4"/>
<path d="M513.0 610.65 V701.8" fill="none" stroke="#1a1a1a" stroke-width="1.3" stroke-dasharray="11.2 4.45" stroke-dashoffset="0"/>
<path d="M521.4 630.30 H532" stroke="#2b0f54" stroke-width="1.3"/><circle cx="526.7" cy="630.30" r="2.5" fill="#2b0f54"/>
<text x="537.00" y="633.24" font-size="8.2" text-anchor="start" fill="#000">LDA</text>
<path d="M521.4 645.27 H532" stroke="#1a4df0" stroke-width="1.3"/><circle cx="526.7" cy="645.27" r="2.5" fill="#1a4df0"/>
<text x="537.00" y="648.21" font-size="8.2" text-anchor="start" fill="#000">SVM</text>
<path d="M521.4 660.24 H532" stroke="#1a6e7a" stroke-width="1.3"/><circle cx="526.7" cy="660.24" r="2.5" fill="#1a6e7a"/>
<text x="537.00" y="663.18" font-size="8.2" text-anchor="start" fill="#000">Neural Network</text>
<path d="M521.4 675.21 H532" stroke="#f25a0f" stroke-width="1.3"/><circle cx="526.7" cy="675.21" r="2.5" fill="#f25a0f"/>
<text x="537.00" y="678.15" font-size="8.2" text-anchor="start" fill="#000">LR</text>
<path d="M521.4 690.18 H532" stroke="#f0001e" stroke-width="1.3"/><circle cx="526.7" cy="690.18" r="2.5" fill="#f0001e"/>
<text x="537.00" y="693.12" font-size="8.2" text-anchor="start" fill="#000">Bagging Tree</text>
<path d="M604.7 630.30 H615.4" stroke="#a07fd6" stroke-width="1.3"/><circle cx="610.0" cy="630.30" r="2.5" fill="#a07fd6"/>
<text x="620.90" y="633.24" font-size="8.2" text-anchor="start" fill="#000">Subspace KNN</text>
<path d="M604.7 645.27 H615.4" stroke="#f09a7a" stroke-width="1.3"/><circle cx="610.0" cy="645.27" r="2.5" fill="#f09a7a"/>
<text x="620.90" y="648.21" font-size="8.2" text-anchor="start" fill="#000">Naïve Bayes</text>
<path d="M604.7 660.24 H615.4" stroke="#12b5f5" stroke-width="1.3"/><circle cx="610.0" cy="660.24" r="2.5" fill="#12b5f5"/>
<text x="620.90" y="663.18" font-size="8.2" text-anchor="start" fill="#000">Tree</text>
<path d="M604.7 675.21 H615.4" stroke="#6bbfc8" stroke-width="1.3"/><circle cx="610.0" cy="675.21" r="2.5" fill="#6bbfc8"/>
<text x="620.90" y="678.15" font-size="8.2" text-anchor="start" fill="#000">KNN</text>
</g>
</svg>
</body></html>
